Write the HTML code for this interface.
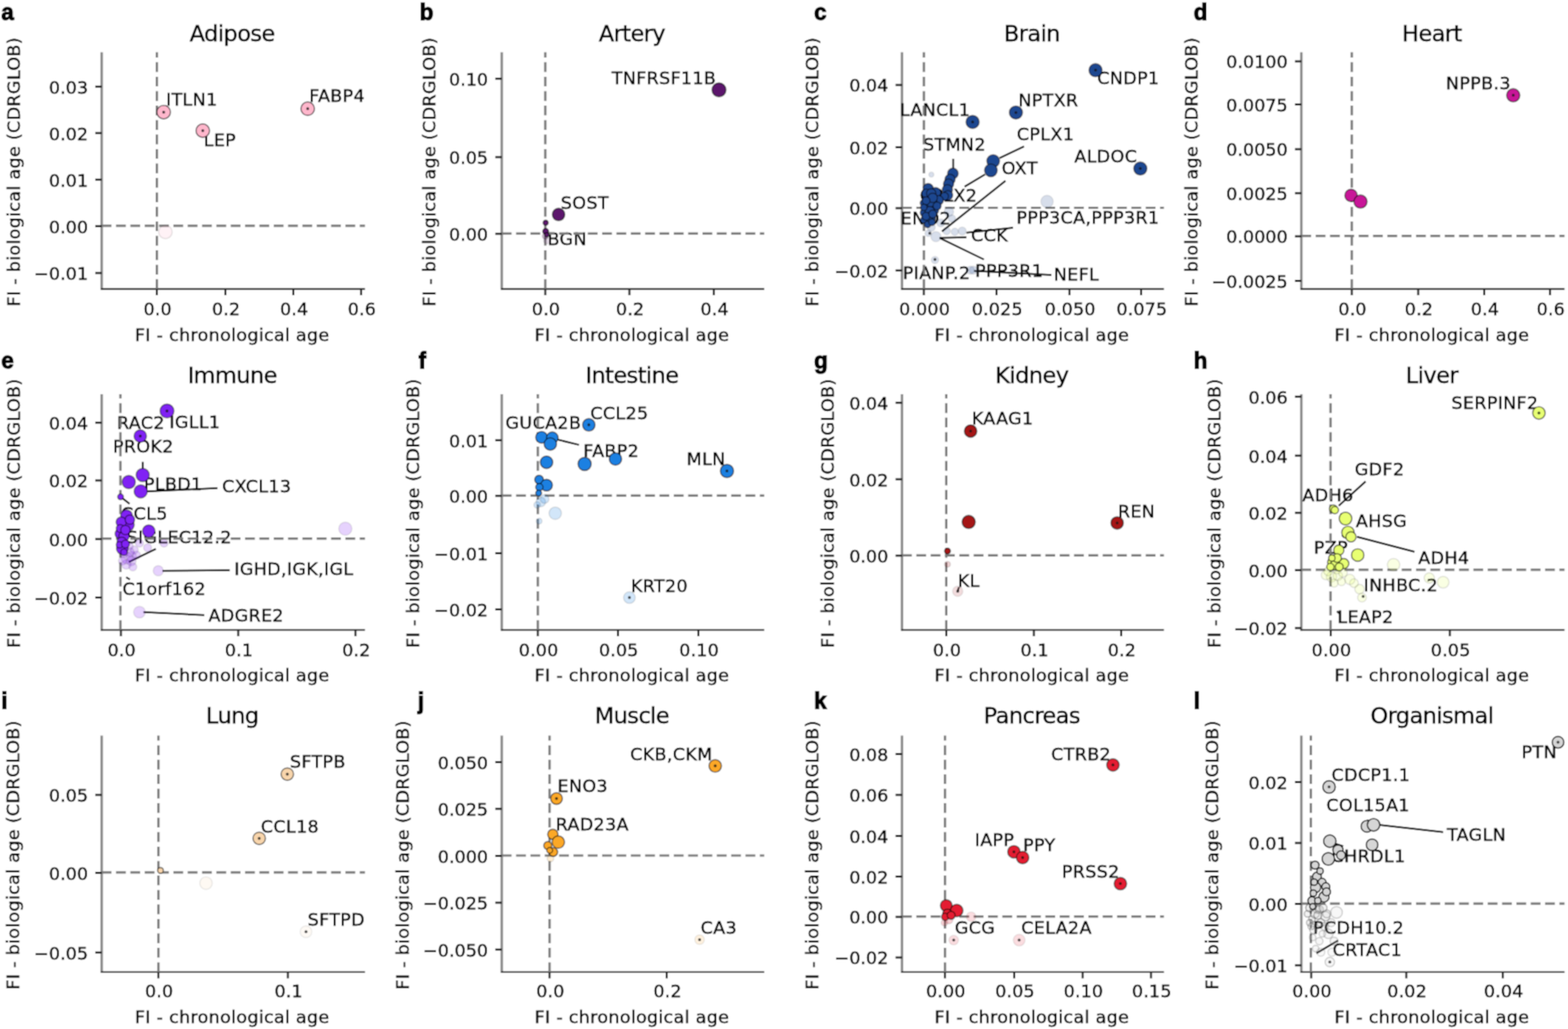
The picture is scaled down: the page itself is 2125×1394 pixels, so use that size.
<!DOCTYPE html>
<html><head><meta charset="utf-8"><title>Figure</title>
<style>html,body{margin:0;padding:0;background:#fff;} svg{display:block}</style>
</head><body>
<svg width="2125" height="1394" viewBox="0 0 2125 1394">
<defs><filter id="soft" filterUnits="userSpaceOnUse" x="0" y="0" width="2125" height="1394"><feConvolveMatrix order="3" kernelMatrix="1 2 1 2 4 2 1 2 1" divisor="16" edgeMode="duplicate"/></filter></defs>
<g filter="url(#soft)">
<rect width="2125" height="1394" fill="#fff"/>
<line x1="137.8" y1="70.8" x2="137.8" y2="392.5" stroke="#8a8a8a" stroke-width="3.4"/>
<line x1="136.8" y1="391.5" x2="494.6" y2="391.5" stroke="#333" stroke-width="2.4"/>
<text x="225.0" y="143.3" font-size="23.8" text-anchor="start" font-weight="normal" style="font-family:'DejaVu Sans', 'Liberation Sans', sans-serif;letter-spacing:0.4px" stroke="#000" stroke-width="0.55" >ITLN1</text>
<text x="276.0" y="198.0" font-size="23.8" text-anchor="start" font-weight="normal" style="font-family:'DejaVu Sans', 'Liberation Sans', sans-serif;letter-spacing:0.4px" stroke="#000" stroke-width="0.55" >LEP</text>
<text x="419.0" y="138.0" font-size="23.8" text-anchor="start" font-weight="normal" style="font-family:'DejaVu Sans', 'Liberation Sans', sans-serif;letter-spacing:0.4px" stroke="#000" stroke-width="0.55" >FABP4</text>
<line x1="212.6" y1="391.5" x2="212.6" y2="70.8" stroke="#7a7a7a" stroke-width="3.2" stroke-dasharray="13.2 6.4"/>
<line x1="137.8" y1="305.8" x2="494.6" y2="305.8" stroke="#7a7a7a" stroke-width="3.2" stroke-dasharray="13.3 6.13"/>
<line x1="226" y1="143" x2="223" y2="150" stroke="#111" stroke-width="2.5"/>
<line x1="275" y1="177" x2="280" y2="184" stroke="#111" stroke-width="2.5"/>
<line x1="417" y1="147.5" x2="422" y2="139.5" stroke="#111" stroke-width="2.5"/>
<circle cx="224.2" cy="314.2" r="9.15" fill="#ffb7cc" fill-opacity="0.18" stroke="#000" stroke-opacity="0.10" stroke-width="1.7"/>
<circle cx="221.8" cy="151.9" r="9.15" fill="#ffb7cc" fill-opacity="1.0" stroke="#000" stroke-opacity="0.55" stroke-width="1.7"/>
<circle cx="274.8" cy="177" r="9.15" fill="#ffb7cc" fill-opacity="1.0" stroke="#000" stroke-opacity="0.55" stroke-width="1.7"/>
<circle cx="417" cy="147.3" r="9.15" fill="#ffb7cc" fill-opacity="1.0" stroke="#000" stroke-opacity="0.55" stroke-width="1.7"/>
<circle cx="221.8" cy="151.9" r="2" fill="#111" fill-opacity="0.75"/>
<circle cx="274.8" cy="177" r="2" fill="#111" fill-opacity="0.75"/>
<circle cx="417" cy="147.3" r="2" fill="#111" fill-opacity="0.75"/>
<line x1="212.6" y1="391.5" x2="212.6" y2="400.0" stroke="#222" stroke-width="2.8"/>
<text x="213.6" y="426.6" font-size="23.8" text-anchor="middle" font-weight="normal" style="font-family:'DejaVu Sans', 'Liberation Sans', sans-serif;letter-spacing:0.15px" stroke="#000" stroke-width="0.55" >0.0</text>
<line x1="305.4" y1="391.5" x2="305.4" y2="400.0" stroke="#222" stroke-width="2.8"/>
<text x="306.4" y="426.6" font-size="23.8" text-anchor="middle" font-weight="normal" style="font-family:'DejaVu Sans', 'Liberation Sans', sans-serif;letter-spacing:0.15px" stroke="#000" stroke-width="0.55" >0.2</text>
<line x1="397.6" y1="391.5" x2="397.6" y2="400.0" stroke="#222" stroke-width="2.8"/>
<text x="398.6" y="426.6" font-size="23.8" text-anchor="middle" font-weight="normal" style="font-family:'DejaVu Sans', 'Liberation Sans', sans-serif;letter-spacing:0.15px" stroke="#000" stroke-width="0.55" >0.4</text>
<line x1="489.3" y1="391.5" x2="489.3" y2="400.0" stroke="#222" stroke-width="2.8"/>
<text x="490.3" y="426.6" font-size="23.8" text-anchor="middle" font-weight="normal" style="font-family:'DejaVu Sans', 'Liberation Sans', sans-serif;letter-spacing:0.15px" stroke="#000" stroke-width="0.55" >0.6</text>
<line x1="137.8" y1="117.3" x2="129.10000000000002" y2="117.3" stroke="#111" stroke-width="2.8"/>
<text x="119.3" y="126.6" font-size="23.8" text-anchor="end" font-weight="normal" style="font-family:'DejaVu Sans', 'Liberation Sans', sans-serif;letter-spacing:0px" stroke="#000" stroke-width="0.55" >0.03</text>
<line x1="137.8" y1="180.2" x2="129.10000000000002" y2="180.2" stroke="#111" stroke-width="2.8"/>
<text x="119.3" y="189.5" font-size="23.8" text-anchor="end" font-weight="normal" style="font-family:'DejaVu Sans', 'Liberation Sans', sans-serif;letter-spacing:0px" stroke="#000" stroke-width="0.55" >0.02</text>
<line x1="137.8" y1="243.3" x2="129.10000000000002" y2="243.3" stroke="#111" stroke-width="2.8"/>
<text x="119.3" y="252.6" font-size="23.8" text-anchor="end" font-weight="normal" style="font-family:'DejaVu Sans', 'Liberation Sans', sans-serif;letter-spacing:0px" stroke="#000" stroke-width="0.55" >0.01</text>
<line x1="137.8" y1="306.3" x2="129.10000000000002" y2="306.3" stroke="#111" stroke-width="2.8"/>
<text x="119.3" y="315.6" font-size="23.8" text-anchor="end" font-weight="normal" style="font-family:'DejaVu Sans', 'Liberation Sans', sans-serif;letter-spacing:0px" stroke="#000" stroke-width="0.55" >0.00</text>
<line x1="137.8" y1="369.9" x2="129.10000000000002" y2="369.9" stroke="#111" stroke-width="2.8"/>
<text x="119.3" y="379.2" font-size="23.8" text-anchor="end" font-weight="normal" style="font-family:'DejaVu Sans', 'Liberation Sans', sans-serif;letter-spacing:0px" stroke="#000" stroke-width="0.55" >−0.01</text>
<text x="314.7" y="461.6" font-size="23.8" text-anchor="middle" font-weight="normal" style="font-family:'DejaVu Sans', 'Liberation Sans', sans-serif;letter-spacing:0.4px" stroke="#000" stroke-width="0.55" >FI - chronological age</text>
<text transform="translate(27.3,232.7) rotate(-90)" font-size="23.8" text-anchor="middle" stroke="#000" stroke-width="0.55" style="font-family:'DejaVu Sans', 'Liberation Sans', sans-serif;letter-spacing:0.4px">FI - biological age (CDRGLOB)</text>
<text x="314.7" y="55.5" font-size="30.5" text-anchor="middle" font-weight="normal" style="font-family:'DejaVu Sans', 'Liberation Sans', sans-serif;letter-spacing:-0.8px" stroke="#000" stroke-width="0.55" >Adipose</text>
<text x="1.8" y="26.7" font-size="30.5" text-anchor="start" font-weight="bold" style="font-family:'Liberation Sans', Arial, sans-serif;letter-spacing:0px" stroke="#000" stroke-width="1.4" >a</text>
<line x1="680.0" y1="70.8" x2="680.0" y2="392.5" stroke="#8a8a8a" stroke-width="3.4"/>
<line x1="679.0" y1="391.5" x2="1035.7" y2="391.5" stroke="#333" stroke-width="2.4"/>
<text x="829.0" y="113.8" font-size="23.8" text-anchor="start" font-weight="normal" style="font-family:'DejaVu Sans', 'Liberation Sans', sans-serif;letter-spacing:0.4px" stroke="#000" stroke-width="0.55" >TNFRSF11B</text>
<text x="760.0" y="283.0" font-size="23.8" text-anchor="start" font-weight="normal" style="font-family:'DejaVu Sans', 'Liberation Sans', sans-serif;letter-spacing:0.4px" stroke="#000" stroke-width="0.55" >SOST</text>
<text x="742.0" y="332.0" font-size="23.8" text-anchor="start" font-weight="normal" style="font-family:'DejaVu Sans', 'Liberation Sans', sans-serif;letter-spacing:0.4px" stroke="#000" stroke-width="0.55" >BGN</text>
<line x1="739" y1="391.5" x2="739" y2="70.8" stroke="#7a7a7a" stroke-width="3.2" stroke-dasharray="13.2 6.4"/>
<line x1="680.0" y1="316.3" x2="1035.7" y2="316.3" stroke="#7a7a7a" stroke-width="3.2" stroke-dasharray="13.3 6.13"/>
<circle cx="741" cy="326" r="4.40" fill="#5c186c" fill-opacity="0.15" stroke="#000" stroke-opacity="0.08" stroke-width="1.7"/>
<circle cx="739" cy="320" r="3.90" fill="#5c186c" fill-opacity="0.3" stroke="#000" stroke-opacity="0.17" stroke-width="1.7"/>
<circle cx="974.4" cy="121.7" r="9.40" fill="#5c186c" fill-opacity="1.0" stroke="#000" stroke-opacity="0.55" stroke-width="1.7"/>
<circle cx="757" cy="290.6" r="8.40" fill="#5c186c" fill-opacity="1.0" stroke="#000" stroke-opacity="0.55" stroke-width="1.7"/>
<circle cx="739.5" cy="301.7" r="3.40" fill="#5c186c" fill-opacity="1.0" stroke="#000" stroke-opacity="0.55" stroke-width="1.7"/>
<circle cx="739.5" cy="313.5" r="3.90" fill="#5c186c" fill-opacity="1.0" stroke="#000" stroke-opacity="0.55" stroke-width="1.7"/>
<circle cx="741" cy="318" r="2.90" fill="#5c186c" fill-opacity="1.0" stroke="#000" stroke-opacity="0.55" stroke-width="1.7"/>
<line x1="739" y1="391.5" x2="739" y2="400.0" stroke="#222" stroke-width="2.8"/>
<text x="740.0" y="426.6" font-size="23.8" text-anchor="middle" font-weight="normal" style="font-family:'DejaVu Sans', 'Liberation Sans', sans-serif;letter-spacing:0.15px" stroke="#000" stroke-width="0.55" >0.0</text>
<line x1="853" y1="391.5" x2="853" y2="400.0" stroke="#222" stroke-width="2.8"/>
<text x="854.0" y="426.6" font-size="23.8" text-anchor="middle" font-weight="normal" style="font-family:'DejaVu Sans', 'Liberation Sans', sans-serif;letter-spacing:0.15px" stroke="#000" stroke-width="0.55" >0.2</text>
<line x1="967.3" y1="391.5" x2="967.3" y2="400.0" stroke="#222" stroke-width="2.8"/>
<text x="968.3" y="426.6" font-size="23.8" text-anchor="middle" font-weight="normal" style="font-family:'DejaVu Sans', 'Liberation Sans', sans-serif;letter-spacing:0.15px" stroke="#000" stroke-width="0.55" >0.4</text>
<line x1="680.0" y1="106.7" x2="671.3" y2="106.7" stroke="#111" stroke-width="2.8"/>
<text x="661.5" y="116.0" font-size="23.8" text-anchor="end" font-weight="normal" style="font-family:'DejaVu Sans', 'Liberation Sans', sans-serif;letter-spacing:0px" stroke="#000" stroke-width="0.55" >0.10</text>
<line x1="680.0" y1="212.9" x2="671.3" y2="212.9" stroke="#111" stroke-width="2.8"/>
<text x="661.5" y="222.2" font-size="23.8" text-anchor="end" font-weight="normal" style="font-family:'DejaVu Sans', 'Liberation Sans', sans-serif;letter-spacing:0px" stroke="#000" stroke-width="0.55" >0.05</text>
<line x1="680.0" y1="316.8" x2="671.3" y2="316.8" stroke="#111" stroke-width="2.8"/>
<text x="661.5" y="326.1" font-size="23.8" text-anchor="end" font-weight="normal" style="font-family:'DejaVu Sans', 'Liberation Sans', sans-serif;letter-spacing:0px" stroke="#000" stroke-width="0.55" >0.00</text>
<text x="856.4" y="461.6" font-size="23.8" text-anchor="middle" font-weight="normal" style="font-family:'DejaVu Sans', 'Liberation Sans', sans-serif;letter-spacing:0.4px" stroke="#000" stroke-width="0.55" >FI - chronological age</text>
<text transform="translate(589.5,232.7) rotate(-90)" font-size="23.8" text-anchor="middle" stroke="#000" stroke-width="0.55" style="font-family:'DejaVu Sans', 'Liberation Sans', sans-serif;letter-spacing:0.4px">FI - biological age (CDRGLOB)</text>
<text x="856.4" y="55.5" font-size="30.5" text-anchor="middle" font-weight="normal" style="font-family:'DejaVu Sans', 'Liberation Sans', sans-serif;letter-spacing:-0.8px" stroke="#000" stroke-width="0.55" >Artery</text>
<text x="568.8" y="26.7" font-size="30.5" text-anchor="start" font-weight="bold" style="font-family:'Liberation Sans', Arial, sans-serif;letter-spacing:0px" stroke="#000" stroke-width="1.4" >b</text>
<line x1="1222.4" y1="70.8" x2="1222.4" y2="392.5" stroke="#8a8a8a" stroke-width="3.4"/>
<line x1="1221.4" y1="391.5" x2="1577.4" y2="391.5" stroke="#333" stroke-width="2.4"/>
<text x="1487.0" y="114.0" font-size="23.8" text-anchor="start" font-weight="normal" style="font-family:'DejaVu Sans', 'Liberation Sans', sans-serif;letter-spacing:0.4px" stroke="#000" stroke-width="0.55" >CNDP1</text>
<text x="1380.0" y="143.5" font-size="23.8" text-anchor="start" font-weight="normal" style="font-family:'DejaVu Sans', 'Liberation Sans', sans-serif;letter-spacing:0.4px" stroke="#000" stroke-width="0.55" >NPTXR</text>
<text x="1219.5" y="156.6" font-size="23.8" text-anchor="start" font-weight="normal" style="font-family:'DejaVu Sans', 'Liberation Sans', sans-serif;letter-spacing:0.4px" stroke="#000" stroke-width="0.55" >LANCL1</text>
<text x="1378.0" y="190.0" font-size="23.8" text-anchor="start" font-weight="normal" style="font-family:'DejaVu Sans', 'Liberation Sans', sans-serif;letter-spacing:0.4px" stroke="#000" stroke-width="0.55" >CPLX1</text>
<text x="1251.0" y="203.9" font-size="23.8" text-anchor="start" font-weight="normal" style="font-family:'DejaVu Sans', 'Liberation Sans', sans-serif;letter-spacing:0.4px" stroke="#000" stroke-width="0.55" >STMN2</text>
<text x="1456.0" y="220.0" font-size="23.8" text-anchor="start" font-weight="normal" style="font-family:'DejaVu Sans', 'Liberation Sans', sans-serif;letter-spacing:0.4px" stroke="#000" stroke-width="0.55" >ALDOC</text>
<text x="1357.5" y="235.5" font-size="23.8" text-anchor="start" font-weight="normal" style="font-family:'DejaVu Sans', 'Liberation Sans', sans-serif;letter-spacing:0.4px" stroke="#000" stroke-width="0.55" >OXT</text>
<text x="1246.5" y="272.5" font-size="23.8" text-anchor="start" font-weight="normal" style="font-family:'DejaVu Sans', 'Liberation Sans', sans-serif;letter-spacing:0.4px" stroke="#000" stroke-width="0.55" >CPLX2</text>
<text x="1220.5" y="304.2" font-size="23.8" text-anchor="start" font-weight="normal" style="font-family:'DejaVu Sans', 'Liberation Sans', sans-serif;letter-spacing:0.4px" stroke="#000" stroke-width="0.55" >ENO2</text>
<text x="1377.5" y="303.0" font-size="23.8" text-anchor="start" font-weight="normal" style="font-family:'DejaVu Sans', 'Liberation Sans', sans-serif;letter-spacing:0.4px" stroke="#000" stroke-width="0.55" >PPP3CA,PPP3R1</text>
<text x="1316.0" y="327.1" font-size="23.8" text-anchor="start" font-weight="normal" style="font-family:'DejaVu Sans', 'Liberation Sans', sans-serif;letter-spacing:0.4px" stroke="#000" stroke-width="0.55" >CCK</text>
<text x="1223.5" y="378.4" font-size="23.8" text-anchor="start" font-weight="normal" style="font-family:'DejaVu Sans', 'Liberation Sans', sans-serif;letter-spacing:0.4px" stroke="#000" stroke-width="0.55" >PIANP.2</text>
<text x="1321.5" y="374.5" font-size="23.8" text-anchor="start" font-weight="normal" style="font-family:'DejaVu Sans', 'Liberation Sans', sans-serif;letter-spacing:0.4px" stroke="#000" stroke-width="0.55" >PPP3R1</text>
<text x="1428.0" y="379.5" font-size="23.8" text-anchor="start" font-weight="normal" style="font-family:'DejaVu Sans', 'Liberation Sans', sans-serif;letter-spacing:0.4px" stroke="#000" stroke-width="0.55" >NEFL</text>
<line x1="1252.1" y1="391.5" x2="1252.1" y2="70.8" stroke="#7a7a7a" stroke-width="3.2" stroke-dasharray="13.2 6.4"/>
<line x1="1222.4" y1="281.5" x2="1577.4" y2="281.5" stroke="#7a7a7a" stroke-width="3.2" stroke-dasharray="13.3 6.13"/>
<line x1="1291.9" y1="215" x2="1291.9" y2="232.4" stroke="#111" stroke-width="2.5"/>
<line x1="1387.8" y1="198.4" x2="1354.7" y2="214.2" stroke="#111" stroke-width="2.5"/>
<line x1="1335" y1="236.3" x2="1307.3" y2="252.9" stroke="#111" stroke-width="2.5"/>
<line x1="1362.6" y1="245" x2="1276.6" y2="313.6" stroke="#111" stroke-width="2.5"/>
<line x1="1309.7" y1="321.5" x2="1273.4" y2="322.3" stroke="#111" stroke-width="2.5"/>
<line x1="1372.9" y1="308.6" x2="1309.7" y2="315.2" stroke="#111" stroke-width="2.5"/>
<line x1="1333.4" y1="351.5" x2="1273.4" y2="322.3" stroke="#111" stroke-width="2.5"/>
<line x1="1320" y1="367" x2="1425" y2="372.5" stroke="#111" stroke-width="2.5"/>
<circle cx="1419" cy="273" r="8.40" fill="#1f4790" fill-opacity="0.18" stroke="#000" stroke-opacity="0.08" stroke-width="1.7"/>
<circle cx="1262.2" cy="236.6" r="3.40" fill="#1f4790" fill-opacity="0.18" stroke="#000" stroke-opacity="0.08" stroke-width="1.7"/>
<circle cx="1268.4" cy="320.6" r="6.90" fill="#1f4790" fill-opacity="0.18" stroke="#000" stroke-opacity="0.08" stroke-width="1.7"/>
<circle cx="1304" cy="313" r="5.40" fill="#1f4790" fill-opacity="0.18" stroke="#000" stroke-opacity="0.08" stroke-width="1.7"/>
<circle cx="1294" cy="314" r="4.90" fill="#1f4790" fill-opacity="0.18" stroke="#000" stroke-opacity="0.08" stroke-width="1.7"/>
<circle cx="1267.1" cy="352.3" r="4.90" fill="#1f4790" fill-opacity="0.18" stroke="#000" stroke-opacity="0.08" stroke-width="1.7"/>
<circle cx="1315" cy="366" r="5.40" fill="#1f4790" fill-opacity="0.18" stroke="#000" stroke-opacity="0.08" stroke-width="1.7"/>
<circle cx="1319" cy="366" r="5.40" fill="#1f4790" fill-opacity="0.18" stroke="#000" stroke-opacity="0.08" stroke-width="1.7"/>
<circle cx="1286" cy="286.8" r="6.40" fill="#1f4790" fill-opacity="0.18" stroke="#000" stroke-opacity="0.08" stroke-width="1.7"/>
<circle cx="1262" cy="308" r="5.40" fill="#1f4790" fill-opacity="0.18" stroke="#000" stroke-opacity="0.08" stroke-width="1.7"/>
<circle cx="1275" cy="302" r="5.40" fill="#1f4790" fill-opacity="0.18" stroke="#000" stroke-opacity="0.08" stroke-width="1.7"/>
<circle cx="1283" cy="313" r="4.90" fill="#1f4790" fill-opacity="0.18" stroke="#000" stroke-opacity="0.08" stroke-width="1.7"/>
<circle cx="1290" cy="296" r="4.90" fill="#1f4790" fill-opacity="0.18" stroke="#000" stroke-opacity="0.08" stroke-width="1.7"/>
<circle cx="1258" cy="316" r="4.40" fill="#1f4790" fill-opacity="0.18" stroke="#000" stroke-opacity="0.08" stroke-width="1.7"/>
<circle cx="1291.4" cy="235" r="7.15" fill="#1f4790" fill-opacity="1.0" stroke="#000" stroke-opacity="0.45" stroke-width="1.7"/>
<circle cx="1287.5" cy="243" r="6.90" fill="#1f4790" fill-opacity="1.0" stroke="#000" stroke-opacity="0.45" stroke-width="1.7"/>
<circle cx="1285.5" cy="249.2" r="6.90" fill="#1f4790" fill-opacity="1.0" stroke="#000" stroke-opacity="0.45" stroke-width="1.7"/>
<circle cx="1283.9" cy="257.1" r="6.90" fill="#1f4790" fill-opacity="1.0" stroke="#000" stroke-opacity="0.45" stroke-width="1.7"/>
<circle cx="1284.7" cy="264.5" r="6.40" fill="#1f4790" fill-opacity="1.0" stroke="#000" stroke-opacity="0.45" stroke-width="1.7"/>
<circle cx="1280" cy="266" r="5.40" fill="#1f4790" fill-opacity="1.0" stroke="#000" stroke-opacity="0.45" stroke-width="1.7"/>
<circle cx="1257.9" cy="255.5" r="6.90" fill="#1f4790" fill-opacity="1.0" stroke="#000" stroke-opacity="0.45" stroke-width="1.7"/>
<circle cx="1268.1" cy="261" r="6.90" fill="#1f4790" fill-opacity="1.0" stroke="#000" stroke-opacity="0.45" stroke-width="1.7"/>
<circle cx="1257.1" cy="268.1" r="6.90" fill="#1f4790" fill-opacity="1.0" stroke="#000" stroke-opacity="0.45" stroke-width="1.7"/>
<circle cx="1272.1" cy="271.3" r="6.40" fill="#1f4790" fill-opacity="1.0" stroke="#000" stroke-opacity="0.45" stroke-width="1.7"/>
<circle cx="1256.3" cy="280" r="6.90" fill="#1f4790" fill-opacity="1.0" stroke="#000" stroke-opacity="0.45" stroke-width="1.7"/>
<circle cx="1263.4" cy="275.2" r="6.90" fill="#1f4790" fill-opacity="1.0" stroke="#000" stroke-opacity="0.45" stroke-width="1.7"/>
<circle cx="1253.1" cy="287.9" r="5.90" fill="#1f4790" fill-opacity="1.0" stroke="#000" stroke-opacity="0.45" stroke-width="1.7"/>
<circle cx="1261" cy="295.7" r="6.90" fill="#1f4790" fill-opacity="1.0" stroke="#000" stroke-opacity="0.45" stroke-width="1.7"/>
<circle cx="1258.7" cy="298.9" r="5.90" fill="#1f4790" fill-opacity="1.0" stroke="#000" stroke-opacity="0.45" stroke-width="1.7"/>
<circle cx="1255" cy="262" r="5.90" fill="#1f4790" fill-opacity="1.0" stroke="#000" stroke-opacity="0.45" stroke-width="1.7"/>
<circle cx="1251.5" cy="275" r="4.40" fill="#1f4790" fill-opacity="1.0" stroke="#000" stroke-opacity="0.45" stroke-width="1.7"/>
<circle cx="1266" cy="285" r="5.90" fill="#1f4790" fill-opacity="1.0" stroke="#000" stroke-opacity="0.45" stroke-width="1.7"/>
<circle cx="1270" cy="279" r="5.40" fill="#1f4790" fill-opacity="1.0" stroke="#000" stroke-opacity="0.45" stroke-width="1.7"/>
<circle cx="1252" cy="298" r="4.40" fill="#1f4790" fill-opacity="1.0" stroke="#000" stroke-opacity="0.45" stroke-width="1.7"/>
<circle cx="1262" cy="262" r="6.40" fill="#1f4790" fill-opacity="1.0" stroke="#000" stroke-opacity="0.45" stroke-width="1.7"/>
<circle cx="1264" cy="268" r="6.40" fill="#1f4790" fill-opacity="1.0" stroke="#000" stroke-opacity="0.45" stroke-width="1.7"/>
<circle cx="1255" cy="272" r="5.40" fill="#1f4790" fill-opacity="1.0" stroke="#000" stroke-opacity="0.45" stroke-width="1.7"/>
<circle cx="1260" cy="286" r="6.40" fill="#1f4790" fill-opacity="1.0" stroke="#000" stroke-opacity="0.45" stroke-width="1.7"/>
<circle cx="1255" cy="293" r="5.40" fill="#1f4790" fill-opacity="1.0" stroke="#000" stroke-opacity="0.45" stroke-width="1.7"/>
<circle cx="1264" cy="290" r="5.40" fill="#1f4790" fill-opacity="1.0" stroke="#000" stroke-opacity="0.45" stroke-width="1.7"/>
<circle cx="1257" cy="304" r="4.40" fill="#1f4790" fill-opacity="1.0" stroke="#000" stroke-opacity="0.45" stroke-width="1.7"/>
<circle cx="1263" cy="301" r="4.40" fill="#1f4790" fill-opacity="1.0" stroke="#000" stroke-opacity="0.45" stroke-width="1.7"/>
<circle cx="1252" cy="281" r="4.40" fill="#1f4790" fill-opacity="1.0" stroke="#000" stroke-opacity="0.45" stroke-width="1.7"/>
<circle cx="1346" cy="218.1" r="8.60" fill="#1f4790" fill-opacity="1.0" stroke="#000" stroke-opacity="0.45" stroke-width="1.7"/>
<circle cx="1342.9" cy="230.8" r="8.60" fill="#1f4790" fill-opacity="1.0" stroke="#000" stroke-opacity="0.45" stroke-width="1.7"/>
<circle cx="1318.1" cy="165.2" r="8.90" fill="#1f4790" fill-opacity="1.0" stroke="#000" stroke-opacity="0.45" stroke-width="1.7"/>
<circle cx="1376.8" cy="152.4" r="8.90" fill="#1f4790" fill-opacity="1.0" stroke="#000" stroke-opacity="0.45" stroke-width="1.7"/>
<circle cx="1484.7" cy="95.1" r="8.90" fill="#1f4790" fill-opacity="1.0" stroke="#000" stroke-opacity="0.45" stroke-width="1.7"/>
<circle cx="1545.4" cy="228.3" r="8.90" fill="#1f4790" fill-opacity="1.0" stroke="#000" stroke-opacity="0.45" stroke-width="1.7"/>
<circle cx="1484.7" cy="95.1" r="2" fill="#111" fill-opacity="0.75"/>
<circle cx="1376.8" cy="152.4" r="2" fill="#111" fill-opacity="0.75"/>
<circle cx="1318.1" cy="165.2" r="2" fill="#111" fill-opacity="0.75"/>
<circle cx="1545.4" cy="228.3" r="2" fill="#111" fill-opacity="0.75"/>
<circle cx="1267.1" cy="351.5" r="2" fill="#111" fill-opacity="0.75"/>
<circle cx="1260" cy="316" r="2" fill="#111" fill-opacity="0.75"/>
<line x1="1252" y1="391.5" x2="1252" y2="400.0" stroke="#222" stroke-width="2.8"/>
<text x="1253.0" y="426.6" font-size="23.8" text-anchor="middle" font-weight="normal" style="font-family:'DejaVu Sans', 'Liberation Sans', sans-serif;letter-spacing:0.15px" stroke="#000" stroke-width="0.55" >0.000</text>
<line x1="1350.5" y1="391.5" x2="1350.5" y2="400.0" stroke="#222" stroke-width="2.8"/>
<text x="1351.5" y="426.6" font-size="23.8" text-anchor="middle" font-weight="normal" style="font-family:'DejaVu Sans', 'Liberation Sans', sans-serif;letter-spacing:0.15px" stroke="#000" stroke-width="0.55" >0.025</text>
<line x1="1449.3" y1="391.5" x2="1449.3" y2="400.0" stroke="#222" stroke-width="2.8"/>
<text x="1450.3" y="426.6" font-size="23.8" text-anchor="middle" font-weight="normal" style="font-family:'DejaVu Sans', 'Liberation Sans', sans-serif;letter-spacing:0.15px" stroke="#000" stroke-width="0.55" >0.050</text>
<line x1="1546.4" y1="391.5" x2="1546.4" y2="400.0" stroke="#222" stroke-width="2.8"/>
<text x="1547.4" y="426.6" font-size="23.8" text-anchor="middle" font-weight="normal" style="font-family:'DejaVu Sans', 'Liberation Sans', sans-serif;letter-spacing:0.15px" stroke="#000" stroke-width="0.55" >0.075</text>
<line x1="1222.4" y1="115.1" x2="1213.7" y2="115.1" stroke="#111" stroke-width="2.8"/>
<text x="1203.9" y="124.4" font-size="23.8" text-anchor="end" font-weight="normal" style="font-family:'DejaVu Sans', 'Liberation Sans', sans-serif;letter-spacing:0px" stroke="#000" stroke-width="0.55" >0.04</text>
<line x1="1222.4" y1="199.4" x2="1213.7" y2="199.4" stroke="#111" stroke-width="2.8"/>
<text x="1203.9" y="208.7" font-size="23.8" text-anchor="end" font-weight="normal" style="font-family:'DejaVu Sans', 'Liberation Sans', sans-serif;letter-spacing:0px" stroke="#000" stroke-width="0.55" >0.02</text>
<line x1="1222.4" y1="282.0" x2="1213.7" y2="282.0" stroke="#111" stroke-width="2.8"/>
<text x="1203.9" y="291.3" font-size="23.8" text-anchor="end" font-weight="normal" style="font-family:'DejaVu Sans', 'Liberation Sans', sans-serif;letter-spacing:0px" stroke="#000" stroke-width="0.55" >0.00</text>
<line x1="1222.4" y1="366.3" x2="1213.7" y2="366.3" stroke="#111" stroke-width="2.8"/>
<text x="1203.9" y="375.6" font-size="23.8" text-anchor="end" font-weight="normal" style="font-family:'DejaVu Sans', 'Liberation Sans', sans-serif;letter-spacing:0px" stroke="#000" stroke-width="0.55" >−0.02</text>
<text x="1398.4" y="461.6" font-size="23.8" text-anchor="middle" font-weight="normal" style="font-family:'DejaVu Sans', 'Liberation Sans', sans-serif;letter-spacing:0.4px" stroke="#000" stroke-width="0.55" >FI - chronological age</text>
<text transform="translate(1109,232.7) rotate(-90)" font-size="23.8" text-anchor="middle" stroke="#000" stroke-width="0.55" style="font-family:'DejaVu Sans', 'Liberation Sans', sans-serif;letter-spacing:0.4px">FI - biological age (CDRGLOB)</text>
<text x="1398.4" y="55.5" font-size="30.5" text-anchor="middle" font-weight="normal" style="font-family:'DejaVu Sans', 'Liberation Sans', sans-serif;letter-spacing:-0.8px" stroke="#000" stroke-width="0.55" >Brain</text>
<text x="1103.3" y="26.7" font-size="30.5" text-anchor="start" font-weight="bold" style="font-family:'Liberation Sans', Arial, sans-serif;letter-spacing:0px" stroke="#000" stroke-width="1.4" >c</text>
<line x1="1763.6" y1="70.8" x2="1763.6" y2="392.5" stroke="#8a8a8a" stroke-width="3.4"/>
<line x1="1762.6" y1="391.5" x2="2120.3" y2="391.5" stroke="#333" stroke-width="2.4"/>
<text x="1959.5" y="121.4" font-size="23.8" text-anchor="start" font-weight="normal" style="font-family:'DejaVu Sans', 'Liberation Sans', sans-serif;letter-spacing:0.4px" stroke="#000" stroke-width="0.55" >NPPB.3</text>
<line x1="1832" y1="391.5" x2="1832" y2="70.8" stroke="#7a7a7a" stroke-width="3.2" stroke-dasharray="13.2 6.4"/>
<line x1="1763.6" y1="319.6" x2="2120.3" y2="319.6" stroke="#7a7a7a" stroke-width="3.2" stroke-dasharray="13.3 6.13"/>
<circle cx="1831" cy="264.7" r="8.40" fill="#c81898" fill-opacity="1.0" stroke="#000" stroke-opacity="0.55" stroke-width="1.7"/>
<circle cx="1843.8" cy="273.1" r="8.90" fill="#c81898" fill-opacity="1.0" stroke="#000" stroke-opacity="0.55" stroke-width="1.7"/>
<circle cx="2050.8" cy="129.1" r="8.90" fill="#c81898" fill-opacity="1.0" stroke="#000" stroke-opacity="0.55" stroke-width="1.7"/>
<circle cx="2050.8" cy="129.1" r="2" fill="#111" fill-opacity="0.75"/>
<line x1="1832" y1="391.5" x2="1832" y2="400.0" stroke="#222" stroke-width="2.8"/>
<text x="1833.0" y="426.6" font-size="23.8" text-anchor="middle" font-weight="normal" style="font-family:'DejaVu Sans', 'Liberation Sans', sans-serif;letter-spacing:0.15px" stroke="#000" stroke-width="0.55" >0.0</text>
<line x1="1922" y1="391.5" x2="1922" y2="400.0" stroke="#222" stroke-width="2.8"/>
<text x="1923.0" y="426.6" font-size="23.8" text-anchor="middle" font-weight="normal" style="font-family:'DejaVu Sans', 'Liberation Sans', sans-serif;letter-spacing:0.15px" stroke="#000" stroke-width="0.55" >0.2</text>
<line x1="2011.4" y1="391.5" x2="2011.4" y2="400.0" stroke="#222" stroke-width="2.8"/>
<text x="2012.4" y="426.6" font-size="23.8" text-anchor="middle" font-weight="normal" style="font-family:'DejaVu Sans', 'Liberation Sans', sans-serif;letter-spacing:0.15px" stroke="#000" stroke-width="0.55" >0.4</text>
<line x1="2100.7" y1="391.5" x2="2100.7" y2="400.0" stroke="#222" stroke-width="2.8"/>
<text x="2101.7" y="426.6" font-size="23.8" text-anchor="middle" font-weight="normal" style="font-family:'DejaVu Sans', 'Liberation Sans', sans-serif;letter-spacing:0.15px" stroke="#000" stroke-width="0.55" >0.6</text>
<line x1="1763.6" y1="83.1" x2="1754.8999999999999" y2="83.1" stroke="#111" stroke-width="2.8"/>
<text x="1745.1" y="92.4" font-size="23.8" text-anchor="end" font-weight="normal" style="font-family:'DejaVu Sans', 'Liberation Sans', sans-serif;letter-spacing:0px" stroke="#000" stroke-width="0.55" >0.0100</text>
<line x1="1763.6" y1="141.4" x2="1754.8999999999999" y2="141.4" stroke="#111" stroke-width="2.8"/>
<text x="1745.1" y="150.7" font-size="23.8" text-anchor="end" font-weight="normal" style="font-family:'DejaVu Sans', 'Liberation Sans', sans-serif;letter-spacing:0px" stroke="#000" stroke-width="0.55" >0.0075</text>
<line x1="1763.6" y1="202.1" x2="1754.8999999999999" y2="202.1" stroke="#111" stroke-width="2.8"/>
<text x="1745.1" y="211.4" font-size="23.8" text-anchor="end" font-weight="normal" style="font-family:'DejaVu Sans', 'Liberation Sans', sans-serif;letter-spacing:0px" stroke="#000" stroke-width="0.55" >0.0050</text>
<line x1="1763.6" y1="261.8" x2="1754.8999999999999" y2="261.8" stroke="#111" stroke-width="2.8"/>
<text x="1745.1" y="271.1" font-size="23.8" text-anchor="end" font-weight="normal" style="font-family:'DejaVu Sans', 'Liberation Sans', sans-serif;letter-spacing:0px" stroke="#000" stroke-width="0.55" >0.0025</text>
<line x1="1763.6" y1="320.1" x2="1754.8999999999999" y2="320.1" stroke="#111" stroke-width="2.8"/>
<text x="1745.1" y="329.4" font-size="23.8" text-anchor="end" font-weight="normal" style="font-family:'DejaVu Sans', 'Liberation Sans', sans-serif;letter-spacing:0px" stroke="#000" stroke-width="0.55" >0.0000</text>
<line x1="1763.6" y1="380.5" x2="1754.8999999999999" y2="380.5" stroke="#111" stroke-width="2.8"/>
<text x="1745.1" y="389.8" font-size="23.8" text-anchor="end" font-weight="normal" style="font-family:'DejaVu Sans', 'Liberation Sans', sans-serif;letter-spacing:0px" stroke="#000" stroke-width="0.55" >−0.0025</text>
<text x="1940.5" y="461.6" font-size="23.8" text-anchor="middle" font-weight="normal" style="font-family:'DejaVu Sans', 'Liberation Sans', sans-serif;letter-spacing:0.4px" stroke="#000" stroke-width="0.55" >FI - chronological age</text>
<text transform="translate(1622.5,232.7) rotate(-90)" font-size="23.8" text-anchor="middle" stroke="#000" stroke-width="0.55" style="font-family:'DejaVu Sans', 'Liberation Sans', sans-serif;letter-spacing:0.4px">FI - biological age (CDRGLOB)</text>
<text x="1940.5" y="55.5" font-size="30.5" text-anchor="middle" font-weight="normal" style="font-family:'DejaVu Sans', 'Liberation Sans', sans-serif;letter-spacing:-0.8px" stroke="#000" stroke-width="0.55" >Heart</text>
<text x="1617.8" y="26.7" font-size="30.5" text-anchor="start" font-weight="bold" style="font-family:'Liberation Sans', Arial, sans-serif;letter-spacing:0px" stroke="#000" stroke-width="1.4" >d</text>
<line x1="137.8" y1="534.1" x2="137.8" y2="854.4" stroke="#8a8a8a" stroke-width="3.4"/>
<line x1="136.8" y1="853.4" x2="494.6" y2="853.4" stroke="#333" stroke-width="2.4"/>
<text x="158.5" y="581.2" font-size="23.8" text-anchor="start" font-weight="normal" style="font-family:'DejaVu Sans', 'Liberation Sans', sans-serif;letter-spacing:0.4px" stroke="#000" stroke-width="0.55" >RAC2</text>
<text x="229.5" y="579.6" font-size="23.8" text-anchor="start" font-weight="normal" style="font-family:'DejaVu Sans', 'Liberation Sans', sans-serif;letter-spacing:0.4px" stroke="#000" stroke-width="0.55" >IGLL1</text>
<text x="153.0" y="613.4" font-size="23.8" text-anchor="start" font-weight="normal" style="font-family:'DejaVu Sans', 'Liberation Sans', sans-serif;letter-spacing:0.4px" stroke="#000" stroke-width="0.55" >PROK2</text>
<text x="195.0" y="663.5" font-size="23.8" text-anchor="start" font-weight="normal" style="font-family:'DejaVu Sans', 'Liberation Sans', sans-serif;letter-spacing:0.4px" stroke="#000" stroke-width="0.55" >PLBD1</text>
<text x="301.0" y="667.3" font-size="23.8" text-anchor="start" font-weight="normal" style="font-family:'DejaVu Sans', 'Liberation Sans', sans-serif;letter-spacing:0.4px" stroke="#000" stroke-width="0.55" >CXCL13</text>
<text x="164.0" y="703.6" font-size="23.8" text-anchor="start" font-weight="normal" style="font-family:'DejaVu Sans', 'Liberation Sans', sans-serif;letter-spacing:0.4px" stroke="#000" stroke-width="0.55" >CCL5</text>
<text x="171.5" y="735.8" font-size="23.8" text-anchor="start" font-weight="normal" style="font-family:'DejaVu Sans', 'Liberation Sans', sans-serif;letter-spacing:0.4px" stroke="#000" stroke-width="0.55" >SIGLEC12.2</text>
<text x="317.5" y="778.6" font-size="23.8" text-anchor="start" font-weight="normal" style="font-family:'DejaVu Sans', 'Liberation Sans', sans-serif;letter-spacing:0.4px" stroke="#000" stroke-width="0.55" >IGHD,IGK,IGL</text>
<text x="166.0" y="805.9" font-size="23.8" text-anchor="start" font-weight="normal" style="font-family:'DejaVu Sans', 'Liberation Sans', sans-serif;letter-spacing:0.4px" stroke="#000" stroke-width="0.55" >C1orf162</text>
<text x="282.5" y="841.6" font-size="23.8" text-anchor="start" font-weight="normal" style="font-family:'DejaVu Sans', 'Liberation Sans', sans-serif;letter-spacing:0.4px" stroke="#000" stroke-width="0.55" >ADGRE2</text>
<line x1="163.2" y1="853.4" x2="163.2" y2="534.1" stroke="#7a7a7a" stroke-width="3.2" stroke-dasharray="13.2 6.4"/>
<line x1="137.8" y1="729.7" x2="494.6" y2="729.7" stroke="#7a7a7a" stroke-width="3.2" stroke-dasharray="13.3 6.13"/>
<line x1="193.4" y1="625.7" x2="193.4" y2="637.9" stroke="#111" stroke-width="2.5"/>
<line x1="294.7" y1="661.3" x2="199" y2="665.7" stroke="#111" stroke-width="2.5"/>
<line x1="163.4" y1="673.1" x2="175.6" y2="682.4" stroke="#111" stroke-width="2.5"/>
<line x1="211.2" y1="743.6" x2="174.5" y2="761.4" stroke="#111" stroke-width="2.5"/>
<line x1="311.3" y1="772.5" x2="220.1" y2="773.2" stroke="#111" stroke-width="2.5"/>
<line x1="171" y1="782" x2="176" y2="785" stroke="#111" stroke-width="2.5"/>
<line x1="276.9" y1="833.3" x2="194.5" y2="829.3" stroke="#111" stroke-width="2.5"/>
<circle cx="468" cy="716.2" r="8.90" fill="#8020f4" fill-opacity="0.2" stroke="#000" stroke-opacity="0.09" stroke-width="1.7"/>
<circle cx="222.3" cy="735.8" r="5.40" fill="#8020f4" fill-opacity="0.2" stroke="#000" stroke-opacity="0.09" stroke-width="1.7"/>
<circle cx="189" cy="735.8" r="5.40" fill="#8020f4" fill-opacity="0.2" stroke="#000" stroke-opacity="0.09" stroke-width="1.7"/>
<circle cx="177.8" cy="753.6" r="6.90" fill="#8020f4" fill-opacity="0.2" stroke="#000" stroke-opacity="0.09" stroke-width="1.7"/>
<circle cx="171.2" cy="764.7" r="6.40" fill="#8020f4" fill-opacity="0.2" stroke="#000" stroke-opacity="0.09" stroke-width="1.7"/>
<circle cx="214.5" cy="773.2" r="6.90" fill="#8020f4" fill-opacity="0.2" stroke="#000" stroke-opacity="0.09" stroke-width="1.7"/>
<circle cx="189" cy="829.3" r="7.90" fill="#8020f4" fill-opacity="0.2" stroke="#000" stroke-opacity="0.09" stroke-width="1.7"/>
<circle cx="200" cy="742" r="5.40" fill="#8020f4" fill-opacity="0.2" stroke="#000" stroke-opacity="0.09" stroke-width="1.7"/>
<circle cx="182" cy="745" r="5.40" fill="#8020f4" fill-opacity="0.2" stroke="#000" stroke-opacity="0.09" stroke-width="1.7"/>
<circle cx="168" cy="750" r="5.40" fill="#8020f4" fill-opacity="0.2" stroke="#000" stroke-opacity="0.09" stroke-width="1.7"/>
<circle cx="175" cy="740" r="5.40" fill="#8020f4" fill-opacity="0.2" stroke="#000" stroke-opacity="0.09" stroke-width="1.7"/>
<circle cx="172" cy="756" r="7.90" fill="#8020f4" fill-opacity="0.2" stroke="#000" stroke-opacity="0.09" stroke-width="1.7"/>
<circle cx="178" cy="760" r="6.40" fill="#8020f4" fill-opacity="0.2" stroke="#000" stroke-opacity="0.09" stroke-width="1.7"/>
<circle cx="185" cy="752" r="5.40" fill="#8020f4" fill-opacity="0.2" stroke="#000" stroke-opacity="0.09" stroke-width="1.7"/>
<circle cx="166" cy="760" r="5.40" fill="#8020f4" fill-opacity="0.2" stroke="#000" stroke-opacity="0.09" stroke-width="1.7"/>
<circle cx="180" cy="768" r="5.40" fill="#8020f4" fill-opacity="0.2" stroke="#000" stroke-opacity="0.09" stroke-width="1.7"/>
<circle cx="176" cy="748" r="5.90" fill="#8020f4" fill-opacity="0.2" stroke="#000" stroke-opacity="0.09" stroke-width="1.7"/>
<circle cx="226.3" cy="556.7" r="9.40" fill="#8020f4" fill-opacity="1.0" stroke="#000" stroke-opacity="0.45" stroke-width="1.7"/>
<circle cx="190.1" cy="590.7" r="8.40" fill="#8020f4" fill-opacity="1.0" stroke="#000" stroke-opacity="0.45" stroke-width="1.7"/>
<circle cx="193.4" cy="643.5" r="8.90" fill="#8020f4" fill-opacity="1.0" stroke="#000" stroke-opacity="0.45" stroke-width="1.7"/>
<circle cx="174.5" cy="653" r="8.90" fill="#8020f4" fill-opacity="1.0" stroke="#000" stroke-opacity="0.45" stroke-width="1.7"/>
<circle cx="190.7" cy="665.7" r="8.90" fill="#8020f4" fill-opacity="1.0" stroke="#000" stroke-opacity="0.45" stroke-width="1.7"/>
<circle cx="163.4" cy="673.1" r="3.90" fill="#8020f4" fill-opacity="1.0" stroke="#000" stroke-opacity="0.45" stroke-width="1.7"/>
<circle cx="201.6" cy="719.5" r="8.40" fill="#8020f4" fill-opacity="1.0" stroke="#000" stroke-opacity="0.45" stroke-width="1.7"/>
<circle cx="171.5" cy="698.7" r="7.90" fill="#8020f4" fill-opacity="1.0" stroke="#000" stroke-opacity="0.45" stroke-width="1.7"/>
<circle cx="173" cy="710.8" r="8.90" fill="#8020f4" fill-opacity="1.0" stroke="#000" stroke-opacity="0.45" stroke-width="1.7"/>
<circle cx="164.3" cy="707.3" r="6.90" fill="#8020f4" fill-opacity="1.0" stroke="#000" stroke-opacity="0.45" stroke-width="1.7"/>
<circle cx="162.9" cy="723" r="6.90" fill="#8020f4" fill-opacity="1.0" stroke="#000" stroke-opacity="0.45" stroke-width="1.7"/>
<circle cx="168" cy="726.6" r="6.90" fill="#8020f4" fill-opacity="1.0" stroke="#000" stroke-opacity="0.45" stroke-width="1.7"/>
<circle cx="165.8" cy="743.1" r="7.90" fill="#8020f4" fill-opacity="1.0" stroke="#000" stroke-opacity="0.45" stroke-width="1.7"/>
<circle cx="165" cy="734" r="6.40" fill="#8020f4" fill-opacity="1.0" stroke="#000" stroke-opacity="0.45" stroke-width="1.7"/>
<circle cx="163" cy="716" r="5.40" fill="#8020f4" fill-opacity="1.0" stroke="#000" stroke-opacity="0.45" stroke-width="1.7"/>
<circle cx="170" cy="718" r="6.40" fill="#8020f4" fill-opacity="1.0" stroke="#000" stroke-opacity="0.45" stroke-width="1.7"/>
<circle cx="176" cy="704" r="6.40" fill="#8020f4" fill-opacity="1.0" stroke="#000" stroke-opacity="0.45" stroke-width="1.7"/>
<circle cx="168" cy="748" r="4.40" fill="#8020f4" fill-opacity="1.0" stroke="#000" stroke-opacity="0.45" stroke-width="1.7"/>
<circle cx="162" cy="738" r="4.40" fill="#8020f4" fill-opacity="1.0" stroke="#000" stroke-opacity="0.45" stroke-width="1.7"/>
<circle cx="170" cy="737" r="5.40" fill="#8020f4" fill-opacity="1.0" stroke="#000" stroke-opacity="0.45" stroke-width="1.7"/>
<circle cx="226.3" cy="556.7" r="2" fill="#111" fill-opacity="0.75"/>
<circle cx="190.1" cy="590.7" r="2" fill="#111" fill-opacity="0.75"/>
<line x1="163.9" y1="853.4" x2="163.9" y2="861.9" stroke="#222" stroke-width="2.8"/>
<text x="164.9" y="889.2" font-size="23.8" text-anchor="middle" font-weight="normal" style="font-family:'DejaVu Sans', 'Liberation Sans', sans-serif;letter-spacing:0.15px" stroke="#000" stroke-width="0.55" >0.0</text>
<line x1="322.9" y1="853.4" x2="322.9" y2="861.9" stroke="#222" stroke-width="2.8"/>
<text x="323.9" y="889.2" font-size="23.8" text-anchor="middle" font-weight="normal" style="font-family:'DejaVu Sans', 'Liberation Sans', sans-serif;letter-spacing:0.15px" stroke="#000" stroke-width="0.55" >0.1</text>
<line x1="481.8" y1="853.4" x2="481.8" y2="861.9" stroke="#222" stroke-width="2.8"/>
<text x="482.8" y="889.2" font-size="23.8" text-anchor="middle" font-weight="normal" style="font-family:'DejaVu Sans', 'Liberation Sans', sans-serif;letter-spacing:0.15px" stroke="#000" stroke-width="0.55" >0.2</text>
<line x1="137.8" y1="572.7" x2="129.10000000000002" y2="572.7" stroke="#111" stroke-width="2.8"/>
<text x="119.3" y="582.0" font-size="23.8" text-anchor="end" font-weight="normal" style="font-family:'DejaVu Sans', 'Liberation Sans', sans-serif;letter-spacing:0px" stroke="#000" stroke-width="0.55" >0.04</text>
<line x1="137.8" y1="650.9" x2="129.10000000000002" y2="650.9" stroke="#111" stroke-width="2.8"/>
<text x="119.3" y="660.2" font-size="23.8" text-anchor="end" font-weight="normal" style="font-family:'DejaVu Sans', 'Liberation Sans', sans-serif;letter-spacing:0px" stroke="#000" stroke-width="0.55" >0.02</text>
<line x1="137.8" y1="730.2" x2="129.10000000000002" y2="730.2" stroke="#111" stroke-width="2.8"/>
<text x="119.3" y="739.5" font-size="23.8" text-anchor="end" font-weight="normal" style="font-family:'DejaVu Sans', 'Liberation Sans', sans-serif;letter-spacing:0px" stroke="#000" stroke-width="0.55" >0.00</text>
<line x1="137.8" y1="809.4" x2="129.10000000000002" y2="809.4" stroke="#111" stroke-width="2.8"/>
<text x="119.3" y="818.7" font-size="23.8" text-anchor="end" font-weight="normal" style="font-family:'DejaVu Sans', 'Liberation Sans', sans-serif;letter-spacing:0px" stroke="#000" stroke-width="0.55" >−0.02</text>
<text x="314.7" y="923.1" font-size="23.8" text-anchor="middle" font-weight="normal" style="font-family:'DejaVu Sans', 'Liberation Sans', sans-serif;letter-spacing:0.4px" stroke="#000" stroke-width="0.55" >FI - chronological age</text>
<text transform="translate(27.3,695.2) rotate(-90)" font-size="23.8" text-anchor="middle" stroke="#000" stroke-width="0.55" style="font-family:'DejaVu Sans', 'Liberation Sans', sans-serif;letter-spacing:0.4px">FI - biological age (CDRGLOB)</text>
<text x="314.7" y="519.3" font-size="30.5" text-anchor="middle" font-weight="normal" style="font-family:'DejaVu Sans', 'Liberation Sans', sans-serif;letter-spacing:-0.8px" stroke="#000" stroke-width="0.55" >Immune</text>
<text x="1.8" y="498.7" font-size="30.5" text-anchor="start" font-weight="bold" style="font-family:'Liberation Sans', Arial, sans-serif;letter-spacing:0px" stroke="#000" stroke-width="1.4" >e</text>
<line x1="680.0" y1="534.1" x2="680.0" y2="854.4" stroke="#8a8a8a" stroke-width="3.4"/>
<line x1="679.0" y1="853.4" x2="1035.7" y2="853.4" stroke="#333" stroke-width="2.4"/>
<text x="685.0" y="580.6" font-size="23.8" text-anchor="start" font-weight="normal" style="font-family:'DejaVu Sans', 'Liberation Sans', sans-serif;letter-spacing:0.4px" stroke="#000" stroke-width="0.55" >GUCA2B</text>
<text x="800.0" y="567.8" font-size="23.8" text-anchor="start" font-weight="normal" style="font-family:'DejaVu Sans', 'Liberation Sans', sans-serif;letter-spacing:0.4px" stroke="#000" stroke-width="0.55" >CCL25</text>
<text x="790.5" y="619.4" font-size="23.8" text-anchor="start" font-weight="normal" style="font-family:'DejaVu Sans', 'Liberation Sans', sans-serif;letter-spacing:0.4px" stroke="#000" stroke-width="0.55" >FABP2</text>
<text x="930.5" y="630.2" font-size="23.8" text-anchor="start" font-weight="normal" style="font-family:'DejaVu Sans', 'Liberation Sans', sans-serif;letter-spacing:0.4px" stroke="#000" stroke-width="0.55" >MLN</text>
<text x="855.0" y="802.2" font-size="23.8" text-anchor="start" font-weight="normal" style="font-family:'DejaVu Sans', 'Liberation Sans', sans-serif;letter-spacing:0.4px" stroke="#000" stroke-width="0.55" >KRT20</text>
<line x1="728.9" y1="853.4" x2="728.9" y2="534.1" stroke="#7a7a7a" stroke-width="3.2" stroke-dasharray="13.2 6.4"/>
<line x1="680.0" y1="671.3" x2="1035.7" y2="671.3" stroke="#7a7a7a" stroke-width="3.2" stroke-dasharray="13.3 6.13"/>
<line x1="784.6" y1="602.6" x2="752.5" y2="594.8" stroke="#111" stroke-width="2.5"/>
<circle cx="752.5" cy="695.3" r="8.40" fill="#1c80e1" fill-opacity="0.2" stroke="#000" stroke-opacity="0.11" stroke-width="1.7"/>
<circle cx="853" cy="809.6" r="7.90" fill="#1c80e1" fill-opacity="0.2" stroke="#000" stroke-opacity="0.11" stroke-width="1.7"/>
<circle cx="730.6" cy="706" r="3.90" fill="#1c80e1" fill-opacity="0.2" stroke="#000" stroke-opacity="0.11" stroke-width="1.7"/>
<circle cx="733" cy="680" r="6.40" fill="#1c80e1" fill-opacity="0.2" stroke="#000" stroke-opacity="0.11" stroke-width="1.7"/>
<circle cx="738" cy="676" r="5.90" fill="#1c80e1" fill-opacity="0.2" stroke="#000" stroke-opacity="0.11" stroke-width="1.7"/>
<circle cx="728" cy="684" r="4.40" fill="#1c80e1" fill-opacity="0.2" stroke="#000" stroke-opacity="0.11" stroke-width="1.7"/>
<circle cx="798" cy="575.6" r="8.40" fill="#1c80e1" fill-opacity="1.0" stroke="#000" stroke-opacity="0.55" stroke-width="1.7"/>
<circle cx="734" cy="592.4" r="7.90" fill="#1c80e1" fill-opacity="1.0" stroke="#000" stroke-opacity="0.55" stroke-width="1.7"/>
<circle cx="748.5" cy="593.1" r="7.90" fill="#1c80e1" fill-opacity="1.0" stroke="#000" stroke-opacity="0.55" stroke-width="1.7"/>
<circle cx="745.8" cy="601.5" r="8.40" fill="#1c80e1" fill-opacity="1.0" stroke="#000" stroke-opacity="0.55" stroke-width="1.7"/>
<circle cx="740.7" cy="626.2" r="8.40" fill="#1c80e1" fill-opacity="1.0" stroke="#000" stroke-opacity="0.55" stroke-width="1.7"/>
<circle cx="792.3" cy="628.5" r="8.90" fill="#1c80e1" fill-opacity="1.0" stroke="#000" stroke-opacity="0.55" stroke-width="1.7"/>
<circle cx="834.1" cy="621.8" r="8.40" fill="#1c80e1" fill-opacity="1.0" stroke="#000" stroke-opacity="0.55" stroke-width="1.7"/>
<circle cx="985.2" cy="638" r="8.90" fill="#1c80e1" fill-opacity="1.0" stroke="#000" stroke-opacity="0.55" stroke-width="1.7"/>
<circle cx="730.6" cy="649.8" r="5.90" fill="#1c80e1" fill-opacity="1.0" stroke="#000" stroke-opacity="0.55" stroke-width="1.7"/>
<circle cx="740.7" cy="657.2" r="7.90" fill="#1c80e1" fill-opacity="1.0" stroke="#000" stroke-opacity="0.55" stroke-width="1.7"/>
<circle cx="731" cy="660" r="4.90" fill="#1c80e1" fill-opacity="1.0" stroke="#000" stroke-opacity="0.55" stroke-width="1.7"/>
<circle cx="730" cy="668" r="3.90" fill="#1c80e1" fill-opacity="1.0" stroke="#000" stroke-opacity="0.55" stroke-width="1.7"/>
<circle cx="798" cy="575.6" r="2" fill="#111" fill-opacity="0.75"/>
<circle cx="985.2" cy="638" r="2" fill="#111" fill-opacity="0.75"/>
<circle cx="853" cy="809.6" r="2" fill="#111" fill-opacity="0.75"/>
<line x1="728.9" y1="853.4" x2="728.9" y2="861.9" stroke="#222" stroke-width="2.8"/>
<text x="729.9" y="889.2" font-size="23.8" text-anchor="middle" font-weight="normal" style="font-family:'DejaVu Sans', 'Liberation Sans', sans-serif;letter-spacing:0.15px" stroke="#000" stroke-width="0.55" >0.00</text>
<line x1="837.5" y1="853.4" x2="837.5" y2="861.9" stroke="#222" stroke-width="2.8"/>
<text x="838.5" y="889.2" font-size="23.8" text-anchor="middle" font-weight="normal" style="font-family:'DejaVu Sans', 'Liberation Sans', sans-serif;letter-spacing:0.15px" stroke="#000" stroke-width="0.55" >0.05</text>
<line x1="946.4" y1="853.4" x2="946.4" y2="861.9" stroke="#222" stroke-width="2.8"/>
<text x="947.4" y="889.2" font-size="23.8" text-anchor="middle" font-weight="normal" style="font-family:'DejaVu Sans', 'Liberation Sans', sans-serif;letter-spacing:0.15px" stroke="#000" stroke-width="0.55" >0.10</text>
<line x1="680.0" y1="596.3" x2="671.3" y2="596.3" stroke="#111" stroke-width="2.8"/>
<text x="661.5" y="605.6" font-size="23.8" text-anchor="end" font-weight="normal" style="font-family:'DejaVu Sans', 'Liberation Sans', sans-serif;letter-spacing:0px" stroke="#000" stroke-width="0.55" >0.01</text>
<line x1="680.0" y1="671.8" x2="671.3" y2="671.8" stroke="#111" stroke-width="2.8"/>
<text x="661.5" y="681.1" font-size="23.8" text-anchor="end" font-weight="normal" style="font-family:'DejaVu Sans', 'Liberation Sans', sans-serif;letter-spacing:0px" stroke="#000" stroke-width="0.55" >0.00</text>
<line x1="680.0" y1="749.4" x2="671.3" y2="749.4" stroke="#111" stroke-width="2.8"/>
<text x="661.5" y="758.7" font-size="23.8" text-anchor="end" font-weight="normal" style="font-family:'DejaVu Sans', 'Liberation Sans', sans-serif;letter-spacing:0px" stroke="#000" stroke-width="0.55" >−0.01</text>
<line x1="680.0" y1="825.6" x2="671.3" y2="825.6" stroke="#111" stroke-width="2.8"/>
<text x="661.5" y="834.9" font-size="23.8" text-anchor="end" font-weight="normal" style="font-family:'DejaVu Sans', 'Liberation Sans', sans-serif;letter-spacing:0px" stroke="#000" stroke-width="0.55" >−0.02</text>
<text x="856.4" y="923.1" font-size="23.8" text-anchor="middle" font-weight="normal" style="font-family:'DejaVu Sans', 'Liberation Sans', sans-serif;letter-spacing:0.4px" stroke="#000" stroke-width="0.55" >FI - chronological age</text>
<text transform="translate(567.5,695.2) rotate(-90)" font-size="23.8" text-anchor="middle" stroke="#000" stroke-width="0.55" style="font-family:'DejaVu Sans', 'Liberation Sans', sans-serif;letter-spacing:0.4px">FI - biological age (CDRGLOB)</text>
<text x="856.4" y="519.3" font-size="30.5" text-anchor="middle" font-weight="normal" style="font-family:'DejaVu Sans', 'Liberation Sans', sans-serif;letter-spacing:-0.8px" stroke="#000" stroke-width="0.55" >Intestine</text>
<text x="567.3" y="498.7" font-size="30.5" text-anchor="start" font-weight="bold" style="font-family:'Liberation Sans', Arial, sans-serif;letter-spacing:0px" stroke="#000" stroke-width="1.4" >f</text>
<line x1="1222.4" y1="534.1" x2="1222.4" y2="854.4" stroke="#8a8a8a" stroke-width="3.4"/>
<line x1="1221.4" y1="853.4" x2="1577.4" y2="853.4" stroke="#333" stroke-width="2.4"/>
<text x="1317.0" y="574.6" font-size="23.8" text-anchor="start" font-weight="normal" style="font-family:'DejaVu Sans', 'Liberation Sans', sans-serif;letter-spacing:0.4px" stroke="#000" stroke-width="0.55" >KAAG1</text>
<text x="1515.0" y="701.0" font-size="23.8" text-anchor="start" font-weight="normal" style="font-family:'DejaVu Sans', 'Liberation Sans', sans-serif;letter-spacing:0.4px" stroke="#000" stroke-width="0.55" >REN</text>
<text x="1298.0" y="794.7" font-size="23.8" text-anchor="start" font-weight="normal" style="font-family:'DejaVu Sans', 'Liberation Sans', sans-serif;letter-spacing:0.4px" stroke="#000" stroke-width="0.55" >KL</text>
<line x1="1282.4" y1="853.4" x2="1282.4" y2="534.1" stroke="#7a7a7a" stroke-width="3.2" stroke-dasharray="13.2 6.4"/>
<line x1="1222.4" y1="752.3" x2="1577.4" y2="752.3" stroke="#7a7a7a" stroke-width="3.2" stroke-dasharray="13.3 6.13"/>
<line x1="1315.4" y1="584" x2="1318.5" y2="576.5" stroke="#111" stroke-width="2.5"/>
<line x1="1514" y1="708.4" x2="1516.5" y2="701.5" stroke="#111" stroke-width="2.5"/>
<line x1="1297.9" y1="801.1" x2="1299.5" y2="795.5" stroke="#111" stroke-width="2.5"/>
<circle cx="1284.1" cy="764.4" r="3.90" fill="#a51619" fill-opacity="0.2" stroke="#000" stroke-opacity="0.11" stroke-width="1.7"/>
<circle cx="1297.9" cy="801.1" r="6.90" fill="#a51619" fill-opacity="0.15" stroke="#000" stroke-opacity="0.08" stroke-width="1.7"/>
<circle cx="1315.4" cy="584" r="8.40" fill="#a51619" fill-opacity="1.0" stroke="#000" stroke-opacity="0.55" stroke-width="1.7"/>
<circle cx="1312.8" cy="707.1" r="8.90" fill="#a51619" fill-opacity="1.0" stroke="#000" stroke-opacity="0.55" stroke-width="1.7"/>
<circle cx="1514" cy="708.4" r="8.40" fill="#a51619" fill-opacity="1.0" stroke="#000" stroke-opacity="0.55" stroke-width="1.7"/>
<circle cx="1284.1" cy="746.5" r="3.90" fill="#a51619" fill-opacity="1.0" stroke="#000" stroke-opacity="0.55" stroke-width="1.7"/>
<circle cx="1315.4" cy="584" r="2" fill="#111" fill-opacity="0.75"/>
<circle cx="1514" cy="708.4" r="2" fill="#111" fill-opacity="0.75"/>
<circle cx="1297.9" cy="801.1" r="2" fill="#111" fill-opacity="0.75"/>
<line x1="1282.4" y1="853.4" x2="1282.4" y2="861.9" stroke="#222" stroke-width="2.8"/>
<text x="1283.4" y="889.2" font-size="23.8" text-anchor="middle" font-weight="normal" style="font-family:'DejaVu Sans', 'Liberation Sans', sans-serif;letter-spacing:0.15px" stroke="#000" stroke-width="0.55" >0.0</text>
<line x1="1401.1" y1="853.4" x2="1401.1" y2="861.9" stroke="#222" stroke-width="2.8"/>
<text x="1402.1" y="889.2" font-size="23.8" text-anchor="middle" font-weight="normal" style="font-family:'DejaVu Sans', 'Liberation Sans', sans-serif;letter-spacing:0.15px" stroke="#000" stroke-width="0.55" >0.1</text>
<line x1="1519.4" y1="853.4" x2="1519.4" y2="861.9" stroke="#222" stroke-width="2.8"/>
<text x="1520.4" y="889.2" font-size="23.8" text-anchor="middle" font-weight="normal" style="font-family:'DejaVu Sans', 'Liberation Sans', sans-serif;letter-spacing:0.15px" stroke="#000" stroke-width="0.55" >0.2</text>
<line x1="1222.4" y1="545.7" x2="1213.7" y2="545.7" stroke="#111" stroke-width="2.8"/>
<text x="1203.9" y="555.0" font-size="23.8" text-anchor="end" font-weight="normal" style="font-family:'DejaVu Sans', 'Liberation Sans', sans-serif;letter-spacing:0px" stroke="#000" stroke-width="0.55" >0.04</text>
<line x1="1222.4" y1="649.2" x2="1213.7" y2="649.2" stroke="#111" stroke-width="2.8"/>
<text x="1203.9" y="658.5" font-size="23.8" text-anchor="end" font-weight="normal" style="font-family:'DejaVu Sans', 'Liberation Sans', sans-serif;letter-spacing:0px" stroke="#000" stroke-width="0.55" >0.02</text>
<line x1="1222.4" y1="752.8" x2="1213.7" y2="752.8" stroke="#111" stroke-width="2.8"/>
<text x="1203.9" y="762.1" font-size="23.8" text-anchor="end" font-weight="normal" style="font-family:'DejaVu Sans', 'Liberation Sans', sans-serif;letter-spacing:0px" stroke="#000" stroke-width="0.55" >0.00</text>
<text x="1398.4" y="923.1" font-size="23.8" text-anchor="middle" font-weight="normal" style="font-family:'DejaVu Sans', 'Liberation Sans', sans-serif;letter-spacing:0.4px" stroke="#000" stroke-width="0.55" >FI - chronological age</text>
<text transform="translate(1129.5,695.2) rotate(-90)" font-size="23.8" text-anchor="middle" stroke="#000" stroke-width="0.55" style="font-family:'DejaVu Sans', 'Liberation Sans', sans-serif;letter-spacing:0.4px">FI - biological age (CDRGLOB)</text>
<text x="1398.4" y="519.3" font-size="30.5" text-anchor="middle" font-weight="normal" style="font-family:'DejaVu Sans', 'Liberation Sans', sans-serif;letter-spacing:-0.8px" stroke="#000" stroke-width="0.55" >Kidney</text>
<text x="1103.3" y="498.7" font-size="30.5" text-anchor="start" font-weight="bold" style="font-family:'Liberation Sans', Arial, sans-serif;letter-spacing:0px" stroke="#000" stroke-width="1.4" >g</text>
<line x1="1763.6" y1="534.1" x2="1763.6" y2="854.4" stroke="#8a8a8a" stroke-width="3.4"/>
<line x1="1762.6" y1="853.4" x2="2120.3" y2="853.4" stroke="#333" stroke-width="2.4"/>
<text x="1967.0" y="554.3" font-size="23.8" text-anchor="start" font-weight="normal" style="font-family:'DejaVu Sans', 'Liberation Sans', sans-serif;letter-spacing:0.4px" stroke="#000" stroke-width="0.55" >SERPINF2</text>
<text x="1836.0" y="643.9" font-size="23.8" text-anchor="start" font-weight="normal" style="font-family:'DejaVu Sans', 'Liberation Sans', sans-serif;letter-spacing:0.4px" stroke="#000" stroke-width="0.55" >GDF2</text>
<text x="1765.0" y="678.5" font-size="23.8" text-anchor="start" font-weight="normal" style="font-family:'DejaVu Sans', 'Liberation Sans', sans-serif;letter-spacing:0.4px" stroke="#000" stroke-width="0.55" >ADH6</text>
<text x="1837.5" y="714.0" font-size="23.8" text-anchor="start" font-weight="normal" style="font-family:'DejaVu Sans', 'Liberation Sans', sans-serif;letter-spacing:0.4px" stroke="#000" stroke-width="0.55" >AHSG</text>
<text x="1780.5" y="750.3" font-size="23.8" text-anchor="start" font-weight="normal" style="font-family:'DejaVu Sans', 'Liberation Sans', sans-serif;letter-spacing:0.4px" stroke="#000" stroke-width="0.55" >PZP</text>
<text x="1922.0" y="764.4" font-size="23.8" text-anchor="start" font-weight="normal" style="font-family:'DejaVu Sans', 'Liberation Sans', sans-serif;letter-spacing:0.4px" stroke="#000" stroke-width="0.55" >ADH4</text>
<text x="1848.0" y="800.6" font-size="23.8" text-anchor="start" font-weight="normal" style="font-family:'DejaVu Sans', 'Liberation Sans', sans-serif;letter-spacing:0.4px" stroke="#000" stroke-width="0.55" >INHBC.2</text>
<text x="1812.5" y="844.3" font-size="23.8" text-anchor="start" font-weight="normal" style="font-family:'DejaVu Sans', 'Liberation Sans', sans-serif;letter-spacing:0.4px" stroke="#000" stroke-width="0.55" >LEAP2</text>
<line x1="1803.2" y1="853.4" x2="1803.2" y2="534.1" stroke="#7a7a7a" stroke-width="3.2" stroke-dasharray="13.2 6.4"/>
<line x1="1763.6" y1="771.8" x2="2120.3" y2="771.8" stroke="#7a7a7a" stroke-width="3.2" stroke-dasharray="13.3 6.13"/>
<line x1="1850.7" y1="652.2" x2="1814.4" y2="685.1" stroke="#111" stroke-width="2.5"/>
<line x1="1816.9" y1="695.9" x2="1822.7" y2="700.8" stroke="#111" stroke-width="2.5"/>
<line x1="1917" y1="747.5" x2="1839.2" y2="727.2" stroke="#111" stroke-width="2.5"/>
<line x1="1819" y1="725" x2="1822" y2="728" stroke="#111" stroke-width="2.5"/>
<line x1="1812" y1="828" x2="1815" y2="831" stroke="#111" stroke-width="2.5"/>
<circle cx="1888.6" cy="765.1" r="8.40" fill="#e8ff73" fill-opacity="0.2" stroke="#000" stroke-opacity="0.11" stroke-width="1.7"/>
<circle cx="1829.3" cy="784.9" r="6.90" fill="#e8ff73" fill-opacity="0.2" stroke="#000" stroke-opacity="0.11" stroke-width="1.7"/>
<circle cx="1842.5" cy="798.1" r="6.40" fill="#e8ff73" fill-opacity="0.2" stroke="#000" stroke-opacity="0.11" stroke-width="1.7"/>
<circle cx="1845.8" cy="809.6" r="5.90" fill="#e8ff73" fill-opacity="0.2" stroke="#000" stroke-opacity="0.11" stroke-width="1.7"/>
<circle cx="1804.5" cy="781.6" r="6.90" fill="#e8ff73" fill-opacity="0.2" stroke="#000" stroke-opacity="0.11" stroke-width="1.7"/>
<circle cx="1797" cy="779" r="6.40" fill="#e8ff73" fill-opacity="0.2" stroke="#000" stroke-opacity="0.11" stroke-width="1.7"/>
<circle cx="1813" cy="780" r="6.40" fill="#e8ff73" fill-opacity="0.2" stroke="#000" stroke-opacity="0.11" stroke-width="1.7"/>
<circle cx="1955.8" cy="788.7" r="7.90" fill="#e8ff73" fill-opacity="0.2" stroke="#000" stroke-opacity="0.11" stroke-width="1.7"/>
<circle cx="1937" cy="783" r="6.90" fill="#e8ff73" fill-opacity="0.2" stroke="#000" stroke-opacity="0.11" stroke-width="1.7"/>
<circle cx="1808" cy="790" r="5.40" fill="#e8ff73" fill-opacity="0.2" stroke="#000" stroke-opacity="0.11" stroke-width="1.7"/>
<circle cx="1820" cy="776" r="5.90" fill="#e8ff73" fill-opacity="0.2" stroke="#000" stroke-opacity="0.11" stroke-width="1.7"/>
<circle cx="1800" cy="774" r="5.90" fill="#e8ff73" fill-opacity="0.2" stroke="#000" stroke-opacity="0.11" stroke-width="1.7"/>
<circle cx="1812" cy="772" r="5.40" fill="#e8ff73" fill-opacity="0.2" stroke="#000" stroke-opacity="0.11" stroke-width="1.7"/>
<circle cx="1835" cy="790" r="5.90" fill="#e8ff73" fill-opacity="0.2" stroke="#000" stroke-opacity="0.11" stroke-width="1.7"/>
<circle cx="1818" cy="788" r="5.40" fill="#e8ff73" fill-opacity="0.2" stroke="#000" stroke-opacity="0.11" stroke-width="1.7"/>
<circle cx="1807" cy="689.5" r="5.40" fill="#e8ff73" fill-opacity="1.0" stroke="#000" stroke-opacity="0.55" stroke-width="1.7"/>
<circle cx="1809" cy="691" r="4.90" fill="#e8ff73" fill-opacity="1.0" stroke="#000" stroke-opacity="0.55" stroke-width="1.7"/>
<circle cx="1823.5" cy="702.5" r="8.55" fill="#e8ff73" fill-opacity="1.0" stroke="#000" stroke-opacity="0.55" stroke-width="1.7"/>
<circle cx="1826.8" cy="721.4" r="8.40" fill="#e8ff73" fill-opacity="1.0" stroke="#000" stroke-opacity="0.55" stroke-width="1.7"/>
<circle cx="1830.9" cy="727.2" r="6.90" fill="#e8ff73" fill-opacity="1.0" stroke="#000" stroke-opacity="0.55" stroke-width="1.7"/>
<circle cx="1814.4" cy="745.3" r="6.90" fill="#e8ff73" fill-opacity="1.0" stroke="#000" stroke-opacity="0.55" stroke-width="1.7"/>
<circle cx="1840" cy="751.9" r="8.40" fill="#e8ff73" fill-opacity="1.0" stroke="#000" stroke-opacity="0.55" stroke-width="1.7"/>
<circle cx="1821" cy="763.5" r="6.90" fill="#e8ff73" fill-opacity="1.0" stroke="#000" stroke-opacity="0.55" stroke-width="1.7"/>
<circle cx="1806.2" cy="761.8" r="6.90" fill="#e8ff73" fill-opacity="1.0" stroke="#000" stroke-opacity="0.55" stroke-width="1.7"/>
<circle cx="1809.5" cy="765.1" r="6.40" fill="#e8ff73" fill-opacity="1.0" stroke="#000" stroke-opacity="0.55" stroke-width="1.7"/>
<circle cx="1803" cy="768" r="4.90" fill="#e8ff73" fill-opacity="1.0" stroke="#000" stroke-opacity="0.55" stroke-width="1.7"/>
<circle cx="1812" cy="756" r="5.90" fill="#e8ff73" fill-opacity="1.0" stroke="#000" stroke-opacity="0.55" stroke-width="1.7"/>
<circle cx="1805" cy="756" r="4.40" fill="#e8ff73" fill-opacity="1.0" stroke="#000" stroke-opacity="0.55" stroke-width="1.7"/>
<circle cx="1815" cy="768" r="5.40" fill="#e8ff73" fill-opacity="1.0" stroke="#000" stroke-opacity="0.55" stroke-width="1.7"/>
<circle cx="2085.6" cy="559.4" r="8.40" fill="#e8ff73" fill-opacity="1.0" stroke="#000" stroke-opacity="0.55" stroke-width="1.7"/>
<circle cx="2085.6" cy="559.4" r="2" fill="#111" fill-opacity="0.75"/>
<circle cx="1847.4" cy="808" r="2" fill="#111" fill-opacity="0.75"/>
<line x1="1803.4" y1="853.4" x2="1803.4" y2="861.9" stroke="#222" stroke-width="2.8"/>
<text x="1804.4" y="889.2" font-size="23.8" text-anchor="middle" font-weight="normal" style="font-family:'DejaVu Sans', 'Liberation Sans', sans-serif;letter-spacing:0.15px" stroke="#000" stroke-width="0.55" >0.00</text>
<line x1="1964.9" y1="853.4" x2="1964.9" y2="861.9" stroke="#222" stroke-width="2.8"/>
<text x="1965.9" y="889.2" font-size="23.8" text-anchor="middle" font-weight="normal" style="font-family:'DejaVu Sans', 'Liberation Sans', sans-serif;letter-spacing:0.15px" stroke="#000" stroke-width="0.55" >0.05</text>
<line x1="1763.6" y1="537.3" x2="1754.8999999999999" y2="537.3" stroke="#111" stroke-width="2.8"/>
<text x="1745.1" y="546.6" font-size="23.8" text-anchor="end" font-weight="normal" style="font-family:'DejaVu Sans', 'Liberation Sans', sans-serif;letter-spacing:0px" stroke="#000" stroke-width="0.55" >0.06</text>
<line x1="1763.6" y1="617.2" x2="1754.8999999999999" y2="617.2" stroke="#111" stroke-width="2.8"/>
<text x="1745.1" y="626.5" font-size="23.8" text-anchor="end" font-weight="normal" style="font-family:'DejaVu Sans', 'Liberation Sans', sans-serif;letter-spacing:0px" stroke="#000" stroke-width="0.55" >0.04</text>
<line x1="1763.6" y1="694.8" x2="1754.8999999999999" y2="694.8" stroke="#111" stroke-width="2.8"/>
<text x="1745.1" y="704.1" font-size="23.8" text-anchor="end" font-weight="normal" style="font-family:'DejaVu Sans', 'Liberation Sans', sans-serif;letter-spacing:0px" stroke="#000" stroke-width="0.55" >0.02</text>
<line x1="1763.6" y1="772.3" x2="1754.8999999999999" y2="772.3" stroke="#111" stroke-width="2.8"/>
<text x="1745.1" y="781.6" font-size="23.8" text-anchor="end" font-weight="normal" style="font-family:'DejaVu Sans', 'Liberation Sans', sans-serif;letter-spacing:0px" stroke="#000" stroke-width="0.55" >0.00</text>
<line x1="1763.6" y1="850.9" x2="1754.8999999999999" y2="850.9" stroke="#111" stroke-width="2.8"/>
<text x="1745.1" y="860.2" font-size="23.8" text-anchor="end" font-weight="normal" style="font-family:'DejaVu Sans', 'Liberation Sans', sans-serif;letter-spacing:0px" stroke="#000" stroke-width="0.55" >−0.02</text>
<text x="1940.5" y="923.1" font-size="23.8" text-anchor="middle" font-weight="normal" style="font-family:'DejaVu Sans', 'Liberation Sans', sans-serif;letter-spacing:0.4px" stroke="#000" stroke-width="0.55" >FI - chronological age</text>
<text transform="translate(1653.8,695.2) rotate(-90)" font-size="23.8" text-anchor="middle" stroke="#000" stroke-width="0.55" style="font-family:'DejaVu Sans', 'Liberation Sans', sans-serif;letter-spacing:0.4px">FI - biological age (CDRGLOB)</text>
<text x="1940.5" y="519.3" font-size="30.5" text-anchor="middle" font-weight="normal" style="font-family:'DejaVu Sans', 'Liberation Sans', sans-serif;letter-spacing:-0.8px" stroke="#000" stroke-width="0.55" >Liver</text>
<text x="1617.8" y="498.7" font-size="30.5" text-anchor="start" font-weight="bold" style="font-family:'Liberation Sans', Arial, sans-serif;letter-spacing:0px" stroke="#000" stroke-width="1.4" >h</text>
<line x1="137.8" y1="996.5" x2="137.8" y2="1317.9" stroke="#8a8a8a" stroke-width="3.4"/>
<line x1="136.8" y1="1316.9" x2="494.6" y2="1316.9" stroke="#333" stroke-width="2.4"/>
<text x="393.0" y="1040.3" font-size="23.8" text-anchor="start" font-weight="normal" style="font-family:'DejaVu Sans', 'Liberation Sans', sans-serif;letter-spacing:0.4px" stroke="#000" stroke-width="0.55" >SFTPB</text>
<text x="353.5" y="1128.0" font-size="23.8" text-anchor="start" font-weight="normal" style="font-family:'DejaVu Sans', 'Liberation Sans', sans-serif;letter-spacing:0.4px" stroke="#000" stroke-width="0.55" >CCL18</text>
<text x="417.0" y="1253.7" font-size="23.8" text-anchor="start" font-weight="normal" style="font-family:'DejaVu Sans', 'Liberation Sans', sans-serif;letter-spacing:0.4px" stroke="#000" stroke-width="0.55" >SFTPD</text>
<line x1="214.7" y1="1316.9" x2="214.7" y2="996.5" stroke="#7a7a7a" stroke-width="3.2" stroke-dasharray="13.2 6.4"/>
<line x1="137.8" y1="1181.9" x2="494.6" y2="1181.9" stroke="#7a7a7a" stroke-width="3.2" stroke-dasharray="13.3 6.13"/>
<circle cx="279.2" cy="1196.4" r="8.40" fill="#f8d5ac" fill-opacity="0.15" stroke="#000" stroke-opacity="0.08" stroke-width="1.7"/>
<circle cx="414.7" cy="1262.2" r="7.90" fill="#f8d5ac" fill-opacity="0.12" stroke="#000" stroke-opacity="0.07" stroke-width="1.7"/>
<circle cx="389.4" cy="1048.7" r="8.40" fill="#f8d5ac" fill-opacity="1.0" stroke="#000" stroke-opacity="0.55" stroke-width="1.7"/>
<circle cx="351.3" cy="1135.7" r="8.40" fill="#f8d5ac" fill-opacity="1.0" stroke="#000" stroke-opacity="0.55" stroke-width="1.7"/>
<circle cx="217.5" cy="1179.2" r="3.90" fill="#f8d5ac" fill-opacity="1.0" stroke="#000" stroke-opacity="0.55" stroke-width="1.7"/>
<circle cx="389.4" cy="1048.7" r="2" fill="#111" fill-opacity="0.75"/>
<circle cx="351.3" cy="1135.7" r="2" fill="#111" fill-opacity="0.75"/>
<circle cx="414.7" cy="1262.2" r="2" fill="#111" fill-opacity="0.75"/>
<line x1="214.7" y1="1316.9" x2="214.7" y2="1325.4" stroke="#222" stroke-width="2.8"/>
<text x="215.7" y="1350.6" font-size="23.8" text-anchor="middle" font-weight="normal" style="font-family:'DejaVu Sans', 'Liberation Sans', sans-serif;letter-spacing:0.15px" stroke="#000" stroke-width="0.55" >0.0</text>
<line x1="390.1" y1="1316.9" x2="390.1" y2="1325.4" stroke="#222" stroke-width="2.8"/>
<text x="391.1" y="1350.6" font-size="23.8" text-anchor="middle" font-weight="normal" style="font-family:'DejaVu Sans', 'Liberation Sans', sans-serif;letter-spacing:0.15px" stroke="#000" stroke-width="0.55" >0.1</text>
<line x1="137.8" y1="1076.9" x2="129.10000000000002" y2="1076.9" stroke="#111" stroke-width="2.8"/>
<text x="119.3" y="1086.2" font-size="23.8" text-anchor="end" font-weight="normal" style="font-family:'DejaVu Sans', 'Liberation Sans', sans-serif;letter-spacing:0px" stroke="#000" stroke-width="0.55" >0.05</text>
<line x1="137.8" y1="1182.4" x2="129.10000000000002" y2="1182.4" stroke="#111" stroke-width="2.8"/>
<text x="119.3" y="1191.7" font-size="23.8" text-anchor="end" font-weight="normal" style="font-family:'DejaVu Sans', 'Liberation Sans', sans-serif;letter-spacing:0px" stroke="#000" stroke-width="0.55" >0.00</text>
<line x1="137.8" y1="1290.3" x2="129.10000000000002" y2="1290.3" stroke="#111" stroke-width="2.8"/>
<text x="119.3" y="1299.6" font-size="23.8" text-anchor="end" font-weight="normal" style="font-family:'DejaVu Sans', 'Liberation Sans', sans-serif;letter-spacing:0px" stroke="#000" stroke-width="0.55" >−0.05</text>
<text x="314.7" y="1386.0" font-size="23.8" text-anchor="middle" font-weight="normal" style="font-family:'DejaVu Sans', 'Liberation Sans', sans-serif;letter-spacing:0.4px" stroke="#000" stroke-width="0.55" >FI - chronological age</text>
<text transform="translate(26,1158.2) rotate(-90)" font-size="23.8" text-anchor="middle" stroke="#000" stroke-width="0.55" style="font-family:'DejaVu Sans', 'Liberation Sans', sans-serif;letter-spacing:0.4px">FI - biological age (CDRGLOB)</text>
<text x="314.7" y="979.6" font-size="30.5" text-anchor="middle" font-weight="normal" style="font-family:'DejaVu Sans', 'Liberation Sans', sans-serif;letter-spacing:-0.8px" stroke="#000" stroke-width="0.55" >Lung</text>
<text x="1.8" y="959.7" font-size="30.5" text-anchor="start" font-weight="bold" style="font-family:'Liberation Sans', Arial, sans-serif;letter-spacing:0px" stroke="#000" stroke-width="1.4" >i</text>
<line x1="680.0" y1="996.5" x2="680.0" y2="1317.9" stroke="#8a8a8a" stroke-width="3.4"/>
<line x1="679.0" y1="1316.9" x2="1035.7" y2="1316.9" stroke="#333" stroke-width="2.4"/>
<text x="854.0" y="1030.2" font-size="23.8" text-anchor="start" font-weight="normal" style="font-family:'DejaVu Sans', 'Liberation Sans', sans-serif;letter-spacing:0.4px" stroke="#000" stroke-width="0.55" >CKB,CKM</text>
<text x="755.5" y="1073.4" font-size="23.8" text-anchor="start" font-weight="normal" style="font-family:'DejaVu Sans', 'Liberation Sans', sans-serif;letter-spacing:0.4px" stroke="#000" stroke-width="0.55" >ENO3</text>
<text x="753.0" y="1124.6" font-size="23.8" text-anchor="start" font-weight="normal" style="font-family:'DejaVu Sans', 'Liberation Sans', sans-serif;letter-spacing:0.4px" stroke="#000" stroke-width="0.55" >RAD23A</text>
<text x="949.5" y="1264.5" font-size="23.8" text-anchor="start" font-weight="normal" style="font-family:'DejaVu Sans', 'Liberation Sans', sans-serif;letter-spacing:0.4px" stroke="#000" stroke-width="0.55" >CA3</text>
<line x1="744.8" y1="1316.9" x2="744.8" y2="996.5" stroke="#7a7a7a" stroke-width="3.2" stroke-dasharray="13.2 6.4"/>
<line x1="680.0" y1="1159" x2="1035.7" y2="1159" stroke="#7a7a7a" stroke-width="3.2" stroke-dasharray="13.3 6.13"/>
<circle cx="746" cy="1163" r="4.40" fill="#fca827" fill-opacity="0.2" stroke="#000" stroke-opacity="0.11" stroke-width="1.7"/>
<circle cx="948.1" cy="1273" r="6.40" fill="#fca827" fill-opacity="0.15" stroke="#000" stroke-opacity="0.08" stroke-width="1.7"/>
<circle cx="969.3" cy="1037.6" r="8.40" fill="#fca827" fill-opacity="1.0" stroke="#000" stroke-opacity="0.55" stroke-width="1.7"/>
<circle cx="754.2" cy="1081.8" r="7.90" fill="#fca827" fill-opacity="1.0" stroke="#000" stroke-opacity="0.55" stroke-width="1.7"/>
<circle cx="749.2" cy="1130.3" r="6.90" fill="#fca827" fill-opacity="1.0" stroke="#000" stroke-opacity="0.55" stroke-width="1.7"/>
<circle cx="756.6" cy="1140.8" r="8.40" fill="#fca827" fill-opacity="1.0" stroke="#000" stroke-opacity="0.55" stroke-width="1.7"/>
<circle cx="742.4" cy="1145.5" r="5.40" fill="#fca827" fill-opacity="1.0" stroke="#000" stroke-opacity="0.55" stroke-width="1.7"/>
<circle cx="749.8" cy="1154.3" r="5.90" fill="#fca827" fill-opacity="1.0" stroke="#000" stroke-opacity="0.55" stroke-width="1.7"/>
<circle cx="745" cy="1152" r="3.90" fill="#fca827" fill-opacity="1.0" stroke="#000" stroke-opacity="0.55" stroke-width="1.7"/>
<circle cx="969.3" cy="1037.6" r="2" fill="#111" fill-opacity="0.75"/>
<circle cx="754.2" cy="1081.8" r="2" fill="#111" fill-opacity="0.75"/>
<circle cx="948.1" cy="1273" r="2" fill="#111" fill-opacity="0.75"/>
<line x1="744.8" y1="1316.9" x2="744.8" y2="1325.4" stroke="#222" stroke-width="2.8"/>
<text x="745.8" y="1350.6" font-size="23.8" text-anchor="middle" font-weight="normal" style="font-family:'DejaVu Sans', 'Liberation Sans', sans-serif;letter-spacing:0.15px" stroke="#000" stroke-width="0.55" >0.0</text>
<line x1="903.6" y1="1316.9" x2="903.6" y2="1325.4" stroke="#222" stroke-width="2.8"/>
<text x="904.6" y="1350.6" font-size="23.8" text-anchor="middle" font-weight="normal" style="font-family:'DejaVu Sans', 'Liberation Sans', sans-serif;letter-spacing:0.15px" stroke="#000" stroke-width="0.55" >0.2</text>
<line x1="680.0" y1="1032.4" x2="671.3" y2="1032.4" stroke="#111" stroke-width="2.8"/>
<text x="661.5" y="1041.7" font-size="23.8" text-anchor="end" font-weight="normal" style="font-family:'DejaVu Sans', 'Liberation Sans', sans-serif;letter-spacing:0px" stroke="#000" stroke-width="0.55" >0.050</text>
<line x1="680.0" y1="1095.8" x2="671.3" y2="1095.8" stroke="#111" stroke-width="2.8"/>
<text x="661.5" y="1105.1" font-size="23.8" text-anchor="end" font-weight="normal" style="font-family:'DejaVu Sans', 'Liberation Sans', sans-serif;letter-spacing:0px" stroke="#000" stroke-width="0.55" >0.025</text>
<line x1="680.0" y1="1159.5" x2="671.3" y2="1159.5" stroke="#111" stroke-width="2.8"/>
<text x="661.5" y="1168.8" font-size="23.8" text-anchor="end" font-weight="normal" style="font-family:'DejaVu Sans', 'Liberation Sans', sans-serif;letter-spacing:0px" stroke="#000" stroke-width="0.55" >0.000</text>
<line x1="680.0" y1="1222.9" x2="671.3" y2="1222.9" stroke="#111" stroke-width="2.8"/>
<text x="661.5" y="1232.2" font-size="23.8" text-anchor="end" font-weight="normal" style="font-family:'DejaVu Sans', 'Liberation Sans', sans-serif;letter-spacing:0px" stroke="#000" stroke-width="0.55" >−0.025</text>
<line x1="680.0" y1="1286.3" x2="671.3" y2="1286.3" stroke="#111" stroke-width="2.8"/>
<text x="661.5" y="1295.6" font-size="23.8" text-anchor="end" font-weight="normal" style="font-family:'DejaVu Sans', 'Liberation Sans', sans-serif;letter-spacing:0px" stroke="#000" stroke-width="0.55" >−0.050</text>
<text x="856.4" y="1386.0" font-size="23.8" text-anchor="middle" font-weight="normal" style="font-family:'DejaVu Sans', 'Liberation Sans', sans-serif;letter-spacing:0.4px" stroke="#000" stroke-width="0.55" >FI - chronological age</text>
<text transform="translate(554,1158.2) rotate(-90)" font-size="23.8" text-anchor="middle" stroke="#000" stroke-width="0.55" style="font-family:'DejaVu Sans', 'Liberation Sans', sans-serif;letter-spacing:0.4px">FI - biological age (CDRGLOB)</text>
<text x="856.4" y="979.6" font-size="30.5" text-anchor="middle" font-weight="normal" style="font-family:'DejaVu Sans', 'Liberation Sans', sans-serif;letter-spacing:-0.8px" stroke="#000" stroke-width="0.55" >Muscle</text>
<text x="566.3" y="959.7" font-size="30.5" text-anchor="start" font-weight="bold" style="font-family:'Liberation Sans', Arial, sans-serif;letter-spacing:0px" stroke="#000" stroke-width="1.4" >j</text>
<line x1="1222.4" y1="996.5" x2="1222.4" y2="1317.9" stroke="#8a8a8a" stroke-width="3.4"/>
<line x1="1221.4" y1="1316.9" x2="1577.4" y2="1316.9" stroke="#333" stroke-width="2.4"/>
<text x="1424.5" y="1029.5" font-size="23.8" text-anchor="start" font-weight="normal" style="font-family:'DejaVu Sans', 'Liberation Sans', sans-serif;letter-spacing:0.4px" stroke="#000" stroke-width="0.55" >CTRB2</text>
<text x="1321.0" y="1145.5" font-size="23.8" text-anchor="start" font-weight="normal" style="font-family:'DejaVu Sans', 'Liberation Sans', sans-serif;letter-spacing:0.4px" stroke="#000" stroke-width="0.55" >IAPP</text>
<text x="1386.5" y="1152.6" font-size="23.8" text-anchor="start" font-weight="normal" style="font-family:'DejaVu Sans', 'Liberation Sans', sans-serif;letter-spacing:0.4px" stroke="#000" stroke-width="0.55" >PPY</text>
<text x="1439.0" y="1189.3" font-size="23.8" text-anchor="start" font-weight="normal" style="font-family:'DejaVu Sans', 'Liberation Sans', sans-serif;letter-spacing:0.4px" stroke="#000" stroke-width="0.55" >PRSS2</text>
<text x="1294.0" y="1265.2" font-size="23.8" text-anchor="start" font-weight="normal" style="font-family:'DejaVu Sans', 'Liberation Sans', sans-serif;letter-spacing:0.4px" stroke="#000" stroke-width="0.55" >GCG</text>
<text x="1384.0" y="1265.2" font-size="23.8" text-anchor="start" font-weight="normal" style="font-family:'DejaVu Sans', 'Liberation Sans', sans-serif;letter-spacing:0.4px" stroke="#000" stroke-width="0.55" >CELA2A</text>
<line x1="1280.7" y1="1316.9" x2="1280.7" y2="996.5" stroke="#7a7a7a" stroke-width="3.2" stroke-dasharray="13.2 6.4"/>
<line x1="1222.4" y1="1241.6" x2="1577.4" y2="1241.6" stroke="#7a7a7a" stroke-width="3.2" stroke-dasharray="13.3 6.13"/>
<circle cx="1316.1" cy="1241.9" r="6.40" fill="#e41e30" fill-opacity="0.15" stroke="#000" stroke-opacity="0.08" stroke-width="1.7"/>
<circle cx="1292.5" cy="1273.6" r="6.40" fill="#e41e30" fill-opacity="0.15" stroke="#000" stroke-opacity="0.08" stroke-width="1.7"/>
<circle cx="1381.2" cy="1273.6" r="7.90" fill="#e41e30" fill-opacity="0.15" stroke="#000" stroke-opacity="0.08" stroke-width="1.7"/>
<circle cx="1286" cy="1246" r="5.40" fill="#e41e30" fill-opacity="0.2" stroke="#000" stroke-opacity="0.11" stroke-width="1.7"/>
<circle cx="1280" cy="1250" r="4.40" fill="#e41e30" fill-opacity="0.2" stroke="#000" stroke-opacity="0.11" stroke-width="1.7"/>
<circle cx="1508.3" cy="1036.3" r="8.40" fill="#e41e30" fill-opacity="1.0" stroke="#000" stroke-opacity="0.55" stroke-width="1.7"/>
<circle cx="1374.1" cy="1153.9" r="8.40" fill="#e41e30" fill-opacity="1.0" stroke="#000" stroke-opacity="0.55" stroke-width="1.7"/>
<circle cx="1385.9" cy="1161.7" r="8.40" fill="#e41e30" fill-opacity="1.0" stroke="#000" stroke-opacity="0.55" stroke-width="1.7"/>
<circle cx="1518.4" cy="1197.1" r="8.40" fill="#e41e30" fill-opacity="1.0" stroke="#000" stroke-opacity="0.55" stroke-width="1.7"/>
<circle cx="1282.4" cy="1226.8" r="7.90" fill="#e41e30" fill-opacity="1.0" stroke="#000" stroke-opacity="0.55" stroke-width="1.7"/>
<circle cx="1296.6" cy="1233.5" r="8.40" fill="#e41e30" fill-opacity="1.0" stroke="#000" stroke-opacity="0.55" stroke-width="1.7"/>
<circle cx="1284" cy="1238" r="6.40" fill="#e41e30" fill-opacity="1.0" stroke="#000" stroke-opacity="0.55" stroke-width="1.7"/>
<circle cx="1281" cy="1242" r="4.90" fill="#e41e30" fill-opacity="1.0" stroke="#000" stroke-opacity="0.55" stroke-width="1.7"/>
<circle cx="1289" cy="1240" r="5.40" fill="#e41e30" fill-opacity="1.0" stroke="#000" stroke-opacity="0.55" stroke-width="1.7"/>
<circle cx="1508.3" cy="1036.3" r="2" fill="#111" fill-opacity="0.75"/>
<circle cx="1374.1" cy="1153.9" r="2" fill="#111" fill-opacity="0.75"/>
<circle cx="1385.9" cy="1161.7" r="2" fill="#111" fill-opacity="0.75"/>
<circle cx="1518.4" cy="1197.1" r="2" fill="#111" fill-opacity="0.75"/>
<circle cx="1292.5" cy="1273.6" r="2" fill="#111" fill-opacity="0.75"/>
<circle cx="1381.2" cy="1273.6" r="2" fill="#111" fill-opacity="0.75"/>
<line x1="1280.7" y1="1316.9" x2="1280.7" y2="1325.4" stroke="#222" stroke-width="2.8"/>
<text x="1281.7" y="1350.6" font-size="23.8" text-anchor="middle" font-weight="normal" style="font-family:'DejaVu Sans', 'Liberation Sans', sans-serif;letter-spacing:0.15px" stroke="#000" stroke-width="0.55" >0.00</text>
<line x1="1374.5" y1="1316.9" x2="1374.5" y2="1325.4" stroke="#222" stroke-width="2.8"/>
<text x="1375.5" y="1350.6" font-size="23.8" text-anchor="middle" font-weight="normal" style="font-family:'DejaVu Sans', 'Liberation Sans', sans-serif;letter-spacing:0.15px" stroke="#000" stroke-width="0.55" >0.05</text>
<line x1="1467.2" y1="1316.9" x2="1467.2" y2="1325.4" stroke="#222" stroke-width="2.8"/>
<text x="1468.2" y="1350.6" font-size="23.8" text-anchor="middle" font-weight="normal" style="font-family:'DejaVu Sans', 'Liberation Sans', sans-serif;letter-spacing:0.15px" stroke="#000" stroke-width="0.55" >0.10</text>
<line x1="1559.9" y1="1316.9" x2="1559.9" y2="1325.4" stroke="#222" stroke-width="2.8"/>
<text x="1560.9" y="1350.6" font-size="23.8" text-anchor="middle" font-weight="normal" style="font-family:'DejaVu Sans', 'Liberation Sans', sans-serif;letter-spacing:0.15px" stroke="#000" stroke-width="0.55" >0.15</text>
<line x1="1222.4" y1="1021.6" x2="1213.7" y2="1021.6" stroke="#111" stroke-width="2.8"/>
<text x="1203.9" y="1030.9" font-size="23.8" text-anchor="end" font-weight="normal" style="font-family:'DejaVu Sans', 'Liberation Sans', sans-serif;letter-spacing:0px" stroke="#000" stroke-width="0.55" >0.08</text>
<line x1="1222.4" y1="1076.9" x2="1213.7" y2="1076.9" stroke="#111" stroke-width="2.8"/>
<text x="1203.9" y="1086.2" font-size="23.8" text-anchor="end" font-weight="normal" style="font-family:'DejaVu Sans', 'Liberation Sans', sans-serif;letter-spacing:0px" stroke="#000" stroke-width="0.55" >0.06</text>
<line x1="1222.4" y1="1132.5" x2="1213.7" y2="1132.5" stroke="#111" stroke-width="2.8"/>
<text x="1203.9" y="1141.8" font-size="23.8" text-anchor="end" font-weight="normal" style="font-family:'DejaVu Sans', 'Liberation Sans', sans-serif;letter-spacing:0px" stroke="#000" stroke-width="0.55" >0.04</text>
<line x1="1222.4" y1="1187.5" x2="1213.7" y2="1187.5" stroke="#111" stroke-width="2.8"/>
<text x="1203.9" y="1196.8" font-size="23.8" text-anchor="end" font-weight="normal" style="font-family:'DejaVu Sans', 'Liberation Sans', sans-serif;letter-spacing:0px" stroke="#000" stroke-width="0.55" >0.02</text>
<line x1="1222.4" y1="1242.1" x2="1213.7" y2="1242.1" stroke="#111" stroke-width="2.8"/>
<text x="1203.9" y="1251.4" font-size="23.8" text-anchor="end" font-weight="normal" style="font-family:'DejaVu Sans', 'Liberation Sans', sans-serif;letter-spacing:0px" stroke="#000" stroke-width="0.55" >0.00</text>
<line x1="1222.4" y1="1297.1" x2="1213.7" y2="1297.1" stroke="#111" stroke-width="2.8"/>
<text x="1203.9" y="1306.4" font-size="23.8" text-anchor="end" font-weight="normal" style="font-family:'DejaVu Sans', 'Liberation Sans', sans-serif;letter-spacing:0px" stroke="#000" stroke-width="0.55" >−0.02</text>
<text x="1398.4" y="1386.0" font-size="23.8" text-anchor="middle" font-weight="normal" style="font-family:'DejaVu Sans', 'Liberation Sans', sans-serif;letter-spacing:0.4px" stroke="#000" stroke-width="0.55" >FI - chronological age</text>
<text transform="translate(1109,1158.2) rotate(-90)" font-size="23.8" text-anchor="middle" stroke="#000" stroke-width="0.55" style="font-family:'DejaVu Sans', 'Liberation Sans', sans-serif;letter-spacing:0.4px">FI - biological age (CDRGLOB)</text>
<text x="1398.4" y="979.6" font-size="30.5" text-anchor="middle" font-weight="normal" style="font-family:'DejaVu Sans', 'Liberation Sans', sans-serif;letter-spacing:-0.8px" stroke="#000" stroke-width="0.55" >Pancreas</text>
<text x="1103.3" y="959.7" font-size="30.5" text-anchor="start" font-weight="bold" style="font-family:'Liberation Sans', Arial, sans-serif;letter-spacing:0px" stroke="#000" stroke-width="1.4" >k</text>
<line x1="1763.6" y1="996.5" x2="1763.6" y2="1317.9" stroke="#8a8a8a" stroke-width="3.4"/>
<line x1="1762.6" y1="1316.9" x2="2120.3" y2="1316.9" stroke="#333" stroke-width="2.4"/>
<text x="2062.0" y="1026.8" font-size="23.8" text-anchor="start" font-weight="normal" style="font-family:'DejaVu Sans', 'Liberation Sans', sans-serif;letter-spacing:0.4px" stroke="#000" stroke-width="0.55" >PTN</text>
<text x="1804.5" y="1058.2" font-size="23.8" text-anchor="start" font-weight="normal" style="font-family:'DejaVu Sans', 'Liberation Sans', sans-serif;letter-spacing:0.4px" stroke="#000" stroke-width="0.55" >CDCP1.1</text>
<text x="1797.5" y="1099.3" font-size="23.8" text-anchor="start" font-weight="normal" style="font-family:'DejaVu Sans', 'Liberation Sans', sans-serif;letter-spacing:0.4px" stroke="#000" stroke-width="0.55" >COL15A1</text>
<text x="1961.0" y="1139.0" font-size="23.8" text-anchor="start" font-weight="normal" style="font-family:'DejaVu Sans', 'Liberation Sans', sans-serif;letter-spacing:0.4px" stroke="#000" stroke-width="0.55" >TAGLN</text>
<text x="1804.5" y="1168.4" font-size="23.8" text-anchor="start" font-weight="normal" style="font-family:'DejaVu Sans', 'Liberation Sans', sans-serif;letter-spacing:0.4px" stroke="#000" stroke-width="0.55" >CHRDL1</text>
<text x="1779.5" y="1265.2" font-size="23.8" text-anchor="start" font-weight="normal" style="font-family:'DejaVu Sans', 'Liberation Sans', sans-serif;letter-spacing:0.4px" stroke="#000" stroke-width="0.55" >PCDH10.2</text>
<text x="1806.0" y="1294.9" font-size="23.8" text-anchor="start" font-weight="normal" style="font-family:'DejaVu Sans', 'Liberation Sans', sans-serif;letter-spacing:0.4px" stroke="#000" stroke-width="0.55" >CRTAC1</text>
<line x1="1776.5" y1="1316.9" x2="1776.5" y2="996.5" stroke="#7a7a7a" stroke-width="3.2" stroke-dasharray="13.2 6.4"/>
<line x1="1763.6" y1="1224.1" x2="2120.3" y2="1224.1" stroke="#7a7a7a" stroke-width="3.2" stroke-dasharray="13.3 6.13"/>
<line x1="1955.8" y1="1127.3" x2="1864.7" y2="1116.9" stroke="#111" stroke-width="2.5"/>
<line x1="1813.3" y1="1274.2" x2="1784.1" y2="1291.3" stroke="#111" stroke-width="2.5"/>
<line x1="1808.2" y1="1142.5" x2="1820.3" y2="1146.5" stroke="#111" stroke-width="2.5"/>
<line x1="1853.5" y1="1110.4" x2="1853.5" y2="1118.4" stroke="#111" stroke-width="2.5"/>
<line x1="2106" y1="1012" x2="2111.5" y2="1005.6" stroke="#111" stroke-width="2.5"/>
<circle cx="1811.3" cy="1236" r="7.90" fill="#d6d6d6" fill-opacity="0.2" stroke="#000" stroke-opacity="0.18" stroke-width="1.7"/>
<circle cx="1796.2" cy="1241" r="6.40" fill="#d6d6d6" fill-opacity="0.25" stroke="#000" stroke-opacity="0.23" stroke-width="1.7"/>
<circle cx="1800.2" cy="1265.1" r="6.40" fill="#d6d6d6" fill-opacity="0.2" stroke="#000" stroke-opacity="0.18" stroke-width="1.7"/>
<circle cx="1802.2" cy="1303.3" r="6.40" fill="#d6d6d6" fill-opacity="0.2" stroke="#000" stroke-opacity="0.18" stroke-width="1.7"/>
<circle cx="1785" cy="1232" r="5.40" fill="#d6d6d6" fill-opacity="0.3" stroke="#000" stroke-opacity="0.27" stroke-width="1.7"/>
<circle cx="1790" cy="1250" r="5.40" fill="#d6d6d6" fill-opacity="0.25" stroke="#000" stroke-opacity="0.23" stroke-width="1.7"/>
<circle cx="1780" cy="1260" r="4.90" fill="#d6d6d6" fill-opacity="0.25" stroke="#000" stroke-opacity="0.23" stroke-width="1.7"/>
<circle cx="1788" cy="1275" r="4.90" fill="#d6d6d6" fill-opacity="0.2" stroke="#000" stroke-opacity="0.18" stroke-width="1.7"/>
<circle cx="1795" cy="1255" r="5.40" fill="#d6d6d6" fill-opacity="0.2" stroke="#000" stroke-opacity="0.18" stroke-width="1.7"/>
<circle cx="1778" cy="1245" r="4.40" fill="#d6d6d6" fill-opacity="0.3" stroke="#000" stroke-opacity="0.27" stroke-width="1.7"/>
<circle cx="1783" cy="1285" r="4.40" fill="#d6d6d6" fill-opacity="0.2" stroke="#000" stroke-opacity="0.18" stroke-width="1.7"/>
<circle cx="1775" cy="1230" r="5.40" fill="#d6d6d6" fill-opacity="0.35" stroke="#000" stroke-opacity="0.32" stroke-width="1.7"/>
<circle cx="1782" cy="1238" r="5.90" fill="#d6d6d6" fill-opacity="0.3" stroke="#000" stroke-opacity="0.27" stroke-width="1.7"/>
<circle cx="1788" cy="1232" r="5.40" fill="#d6d6d6" fill-opacity="0.3" stroke="#000" stroke-opacity="0.27" stroke-width="1.7"/>
<circle cx="1775" cy="1250" r="4.40" fill="#d6d6d6" fill-opacity="0.3" stroke="#000" stroke-opacity="0.27" stroke-width="1.7"/>
<circle cx="1804" cy="1250" r="5.40" fill="#d6d6d6" fill-opacity="0.2" stroke="#000" stroke-opacity="0.18" stroke-width="1.7"/>
<circle cx="1808" cy="1275" r="5.40" fill="#d6d6d6" fill-opacity="0.2" stroke="#000" stroke-opacity="0.18" stroke-width="1.7"/>
<circle cx="1779" cy="1270" r="4.40" fill="#d6d6d6" fill-opacity="0.2" stroke="#000" stroke-opacity="0.18" stroke-width="1.7"/>
<circle cx="1792" cy="1265" r="4.40" fill="#d6d6d6" fill-opacity="0.2" stroke="#000" stroke-opacity="0.18" stroke-width="1.7"/>
<circle cx="1780" cy="1228" r="4.40" fill="#d6d6d6" fill-opacity="0.4" stroke="#000" stroke-opacity="0.36" stroke-width="1.7"/>
<circle cx="1786" cy="1240" r="5.40" fill="#d6d6d6" fill-opacity="0.3" stroke="#000" stroke-opacity="0.27" stroke-width="1.7"/>
<circle cx="1793" cy="1230" r="5.40" fill="#d6d6d6" fill-opacity="0.3" stroke="#000" stroke-opacity="0.27" stroke-width="1.7"/>
<circle cx="1772" cy="1238" r="4.40" fill="#d6d6d6" fill-opacity="0.3" stroke="#000" stroke-opacity="0.27" stroke-width="1.7"/>
<circle cx="1798" cy="1238" r="5.40" fill="#d6d6d6" fill-opacity="0.25" stroke="#000" stroke-opacity="0.23" stroke-width="1.7"/>
<circle cx="1777" cy="1255" r="4.40" fill="#d6d6d6" fill-opacity="0.25" stroke="#000" stroke-opacity="0.23" stroke-width="1.7"/>
<circle cx="1790" cy="1290" r="5.40" fill="#d6d6d6" fill-opacity="0.15" stroke="#000" stroke-opacity="0.14" stroke-width="1.7"/>
<circle cx="1805" cy="1290" r="5.40" fill="#d6d6d6" fill-opacity="0.15" stroke="#000" stroke-opacity="0.14" stroke-width="1.7"/>
<circle cx="2111.5" cy="1005.6" r="7.90" fill="#d6d6d6" fill-opacity="1.0" stroke="#000" stroke-opacity="0.90" stroke-width="1.7"/>
<circle cx="1801.2" cy="1066.1" r="8.40" fill="#d6d6d6" fill-opacity="1.0" stroke="#000" stroke-opacity="0.90" stroke-width="1.7"/>
<circle cx="1852.5" cy="1119.4" r="7.90" fill="#d6d6d6" fill-opacity="1.0" stroke="#000" stroke-opacity="0.90" stroke-width="1.7"/>
<circle cx="1861.5" cy="1117.4" r="8.40" fill="#d6d6d6" fill-opacity="1.0" stroke="#000" stroke-opacity="0.90" stroke-width="1.7"/>
<circle cx="1802.2" cy="1139.5" r="8.40" fill="#d6d6d6" fill-opacity="1.0" stroke="#000" stroke-opacity="0.90" stroke-width="1.7"/>
<circle cx="1859.5" cy="1144.5" r="7.90" fill="#d6d6d6" fill-opacity="1.0" stroke="#000" stroke-opacity="0.90" stroke-width="1.7"/>
<circle cx="1813.3" cy="1151.6" r="6.90" fill="#d6d6d6" fill-opacity="1.0" stroke="#000" stroke-opacity="0.90" stroke-width="1.7"/>
<circle cx="1817.3" cy="1158.6" r="5.90" fill="#d6d6d6" fill-opacity="1.0" stroke="#000" stroke-opacity="0.90" stroke-width="1.7"/>
<circle cx="1800.2" cy="1163.6" r="8.40" fill="#d6d6d6" fill-opacity="1.0" stroke="#000" stroke-opacity="0.90" stroke-width="1.7"/>
<circle cx="1782.2" cy="1172" r="5.40" fill="#d6d6d6" fill-opacity="1.0" stroke="#000" stroke-opacity="0.90" stroke-width="1.7"/>
<circle cx="1784.8" cy="1187.5" r="5.90" fill="#d6d6d6" fill-opacity="1.0" stroke="#000" stroke-opacity="0.90" stroke-width="1.7"/>
<circle cx="1791.7" cy="1195.3" r="5.40" fill="#d6d6d6" fill-opacity="1.0" stroke="#000" stroke-opacity="0.90" stroke-width="1.7"/>
<circle cx="1783" cy="1202.2" r="6.90" fill="#d6d6d6" fill-opacity="1.0" stroke="#000" stroke-opacity="0.90" stroke-width="1.7"/>
<circle cx="1794.3" cy="1215.1" r="6.90" fill="#d6d6d6" fill-opacity="1.0" stroke="#000" stroke-opacity="0.90" stroke-width="1.7"/>
<circle cx="1777.9" cy="1220.2" r="5.40" fill="#d6d6d6" fill-opacity="1.0" stroke="#000" stroke-opacity="0.90" stroke-width="1.7"/>
<circle cx="1796.8" cy="1201.3" r="5.40" fill="#d6d6d6" fill-opacity="1.0" stroke="#000" stroke-opacity="0.90" stroke-width="1.7"/>
<circle cx="1797.7" cy="1208.2" r="5.40" fill="#d6d6d6" fill-opacity="1.0" stroke="#000" stroke-opacity="0.90" stroke-width="1.7"/>
<circle cx="1780" cy="1210" r="4.40" fill="#d6d6d6" fill-opacity="1.0" stroke="#000" stroke-opacity="0.90" stroke-width="1.7"/>
<circle cx="1786" cy="1220" r="4.40" fill="#d6d6d6" fill-opacity="1.0" stroke="#000" stroke-opacity="0.90" stroke-width="1.7"/>
<circle cx="1779" cy="1228" r="3.90" fill="#d6d6d6" fill-opacity="1.0" stroke="#000" stroke-opacity="0.90" stroke-width="1.7"/>
<circle cx="1789" cy="1180" r="4.40" fill="#d6d6d6" fill-opacity="1.0" stroke="#000" stroke-opacity="0.90" stroke-width="1.7"/>
<circle cx="1781" cy="1195" r="4.40" fill="#d6d6d6" fill-opacity="1.0" stroke="#000" stroke-opacity="0.90" stroke-width="1.7"/>
<circle cx="2111.5" cy="1005.6" r="2" fill="#111" fill-opacity="0.75"/>
<circle cx="1801.2" cy="1066.1" r="2" fill="#111" fill-opacity="0.75"/>
<circle cx="1802.2" cy="1303.3" r="2" fill="#111" fill-opacity="0.75"/>
<line x1="1777" y1="1316.9" x2="1777" y2="1325.4" stroke="#222" stroke-width="2.8"/>
<text x="1778.0" y="1350.6" font-size="23.8" text-anchor="middle" font-weight="normal" style="font-family:'DejaVu Sans', 'Liberation Sans', sans-serif;letter-spacing:0.15px" stroke="#000" stroke-width="0.55" >0.00</text>
<line x1="1905.9" y1="1316.9" x2="1905.9" y2="1325.4" stroke="#222" stroke-width="2.8"/>
<text x="1906.9" y="1350.6" font-size="23.8" text-anchor="middle" font-weight="normal" style="font-family:'DejaVu Sans', 'Liberation Sans', sans-serif;letter-spacing:0.15px" stroke="#000" stroke-width="0.55" >0.02</text>
<line x1="2036.7" y1="1316.9" x2="2036.7" y2="1325.4" stroke="#222" stroke-width="2.8"/>
<text x="2037.7" y="1350.6" font-size="23.8" text-anchor="middle" font-weight="normal" style="font-family:'DejaVu Sans', 'Liberation Sans', sans-serif;letter-spacing:0.15px" stroke="#000" stroke-width="0.55" >0.04</text>
<line x1="1763.6" y1="1059.4" x2="1754.8999999999999" y2="1059.4" stroke="#111" stroke-width="2.8"/>
<text x="1745.1" y="1068.7" font-size="23.8" text-anchor="end" font-weight="normal" style="font-family:'DejaVu Sans', 'Liberation Sans', sans-serif;letter-spacing:0px" stroke="#000" stroke-width="0.55" >0.02</text>
<line x1="1763.6" y1="1142.0" x2="1754.8999999999999" y2="1142.0" stroke="#111" stroke-width="2.8"/>
<text x="1745.1" y="1151.3" font-size="23.8" text-anchor="end" font-weight="normal" style="font-family:'DejaVu Sans', 'Liberation Sans', sans-serif;letter-spacing:0px" stroke="#000" stroke-width="0.55" >0.01</text>
<line x1="1763.6" y1="1224.6" x2="1754.8999999999999" y2="1224.6" stroke="#111" stroke-width="2.8"/>
<text x="1745.1" y="1233.9" font-size="23.8" text-anchor="end" font-weight="normal" style="font-family:'DejaVu Sans', 'Liberation Sans', sans-serif;letter-spacing:0px" stroke="#000" stroke-width="0.55" >0.00</text>
<line x1="1763.6" y1="1307.8" x2="1754.8999999999999" y2="1307.8" stroke="#111" stroke-width="2.8"/>
<text x="1745.1" y="1317.1" font-size="23.8" text-anchor="end" font-weight="normal" style="font-family:'DejaVu Sans', 'Liberation Sans', sans-serif;letter-spacing:0px" stroke="#000" stroke-width="0.55" >−0.01</text>
<text x="1940.5" y="1386.0" font-size="23.8" text-anchor="middle" font-weight="normal" style="font-family:'DejaVu Sans', 'Liberation Sans', sans-serif;letter-spacing:0.4px" stroke="#000" stroke-width="0.55" >FI - chronological age</text>
<text transform="translate(1651,1158.2) rotate(-90)" font-size="23.8" text-anchor="middle" stroke="#000" stroke-width="0.55" style="font-family:'DejaVu Sans', 'Liberation Sans', sans-serif;letter-spacing:0.4px">FI - biological age (CDRGLOB)</text>
<text x="1940.5" y="979.6" font-size="30.5" text-anchor="middle" font-weight="normal" style="font-family:'DejaVu Sans', 'Liberation Sans', sans-serif;letter-spacing:-0.8px" stroke="#000" stroke-width="0.55" >Organismal</text>
<text x="1617.8" y="959.7" font-size="30.5" text-anchor="start" font-weight="bold" style="font-family:'Liberation Sans', Arial, sans-serif;letter-spacing:0px" stroke="#000" stroke-width="1.4" >l</text>
</g>
</svg>
</body></html>
